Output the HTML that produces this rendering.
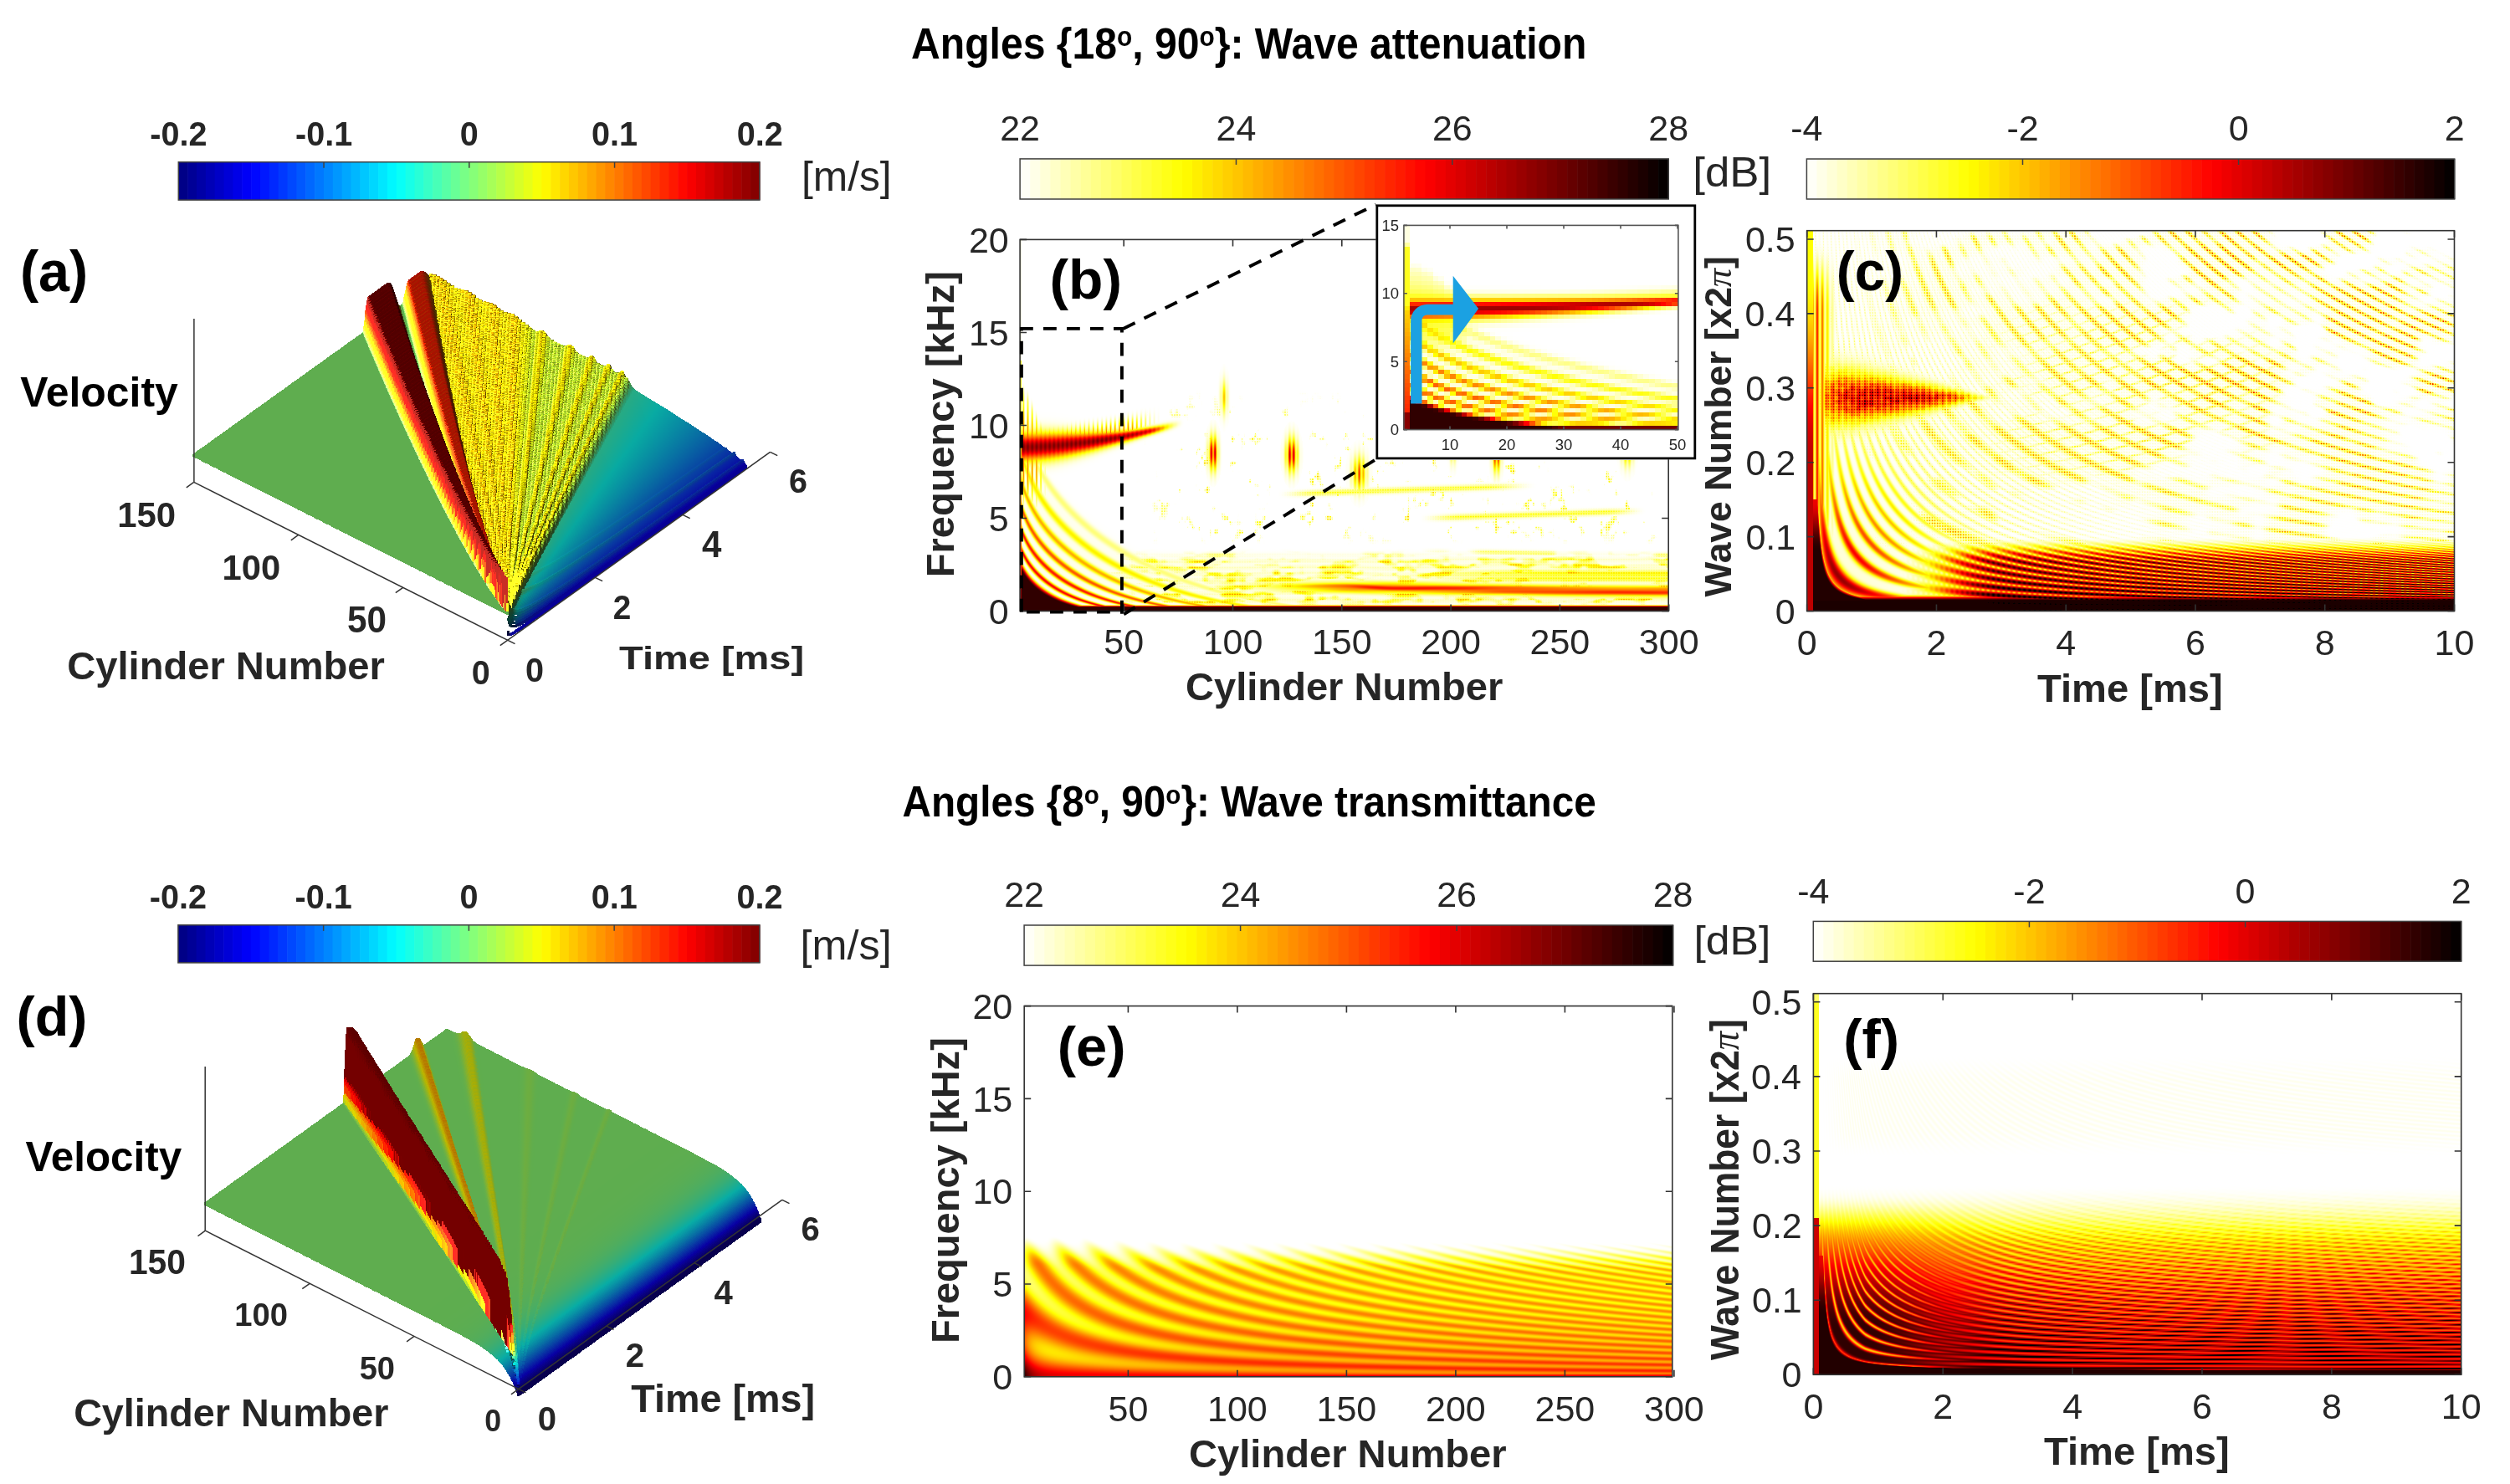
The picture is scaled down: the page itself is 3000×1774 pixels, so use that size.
<!DOCTYPE html>
<html><head><meta charset="utf-8"><style>
html,body{margin:0;padding:0;background:#fff;}
#wrap{position:relative;width:3000px;height:1774px;overflow:hidden;background:#fff;}
#wrap svg,#wrap canvas{position:absolute;left:0;top:0;}
text{font-family:"Liberation Sans",sans-serif;}
</style></head><body><div id="wrap">
<svg id="bg" width="3000" height="1774" viewBox="0 0 3000 1774"></svg>
<canvas id="cv" width="3000" height="1774"></canvas>
<svg id="fg" width="3000" height="1774" viewBox="0 0 3000 1774">
<rect x="213.30" y="193.70" width="11.45" height="45.40" fill="rgb(0, 0, 135)"/>
<rect x="224.15" y="193.70" width="11.45" height="45.40" fill="rgb(0, 0, 151)"/>
<rect x="235.01" y="193.70" width="11.45" height="45.40" fill="rgb(0, 0, 167)"/>
<rect x="245.86" y="193.70" width="11.45" height="45.40" fill="rgb(0, 0, 183)"/>
<rect x="256.71" y="193.70" width="11.45" height="45.40" fill="rgb(0, 0, 199)"/>
<rect x="267.57" y="193.70" width="11.45" height="45.40" fill="rgb(0, 0, 215)"/>
<rect x="278.42" y="193.70" width="11.45" height="45.40" fill="rgb(0, 0, 231)"/>
<rect x="289.27" y="193.70" width="11.45" height="45.40" fill="rgb(0, 0, 247)"/>
<rect x="300.12" y="193.70" width="11.45" height="45.40" fill="rgb(0, 8, 255)"/>
<rect x="310.98" y="193.70" width="11.45" height="45.40" fill="rgb(0, 24, 255)"/>
<rect x="321.83" y="193.70" width="11.45" height="45.40" fill="rgb(0, 40, 255)"/>
<rect x="332.68" y="193.70" width="11.45" height="45.40" fill="rgb(0, 56, 255)"/>
<rect x="343.54" y="193.70" width="11.45" height="45.40" fill="rgb(0, 72, 255)"/>
<rect x="354.39" y="193.70" width="11.45" height="45.40" fill="rgb(0, 88, 255)"/>
<rect x="365.24" y="193.70" width="11.45" height="45.40" fill="rgb(0, 104, 255)"/>
<rect x="376.10" y="193.70" width="11.45" height="45.40" fill="rgb(0, 120, 255)"/>
<rect x="386.95" y="193.70" width="11.45" height="45.40" fill="rgb(0, 135, 255)"/>
<rect x="397.80" y="193.70" width="11.45" height="45.40" fill="rgb(0, 151, 255)"/>
<rect x="408.66" y="193.70" width="11.45" height="45.40" fill="rgb(0, 167, 255)"/>
<rect x="419.51" y="193.70" width="11.45" height="45.40" fill="rgb(0, 183, 255)"/>
<rect x="430.36" y="193.70" width="11.45" height="45.40" fill="rgb(0, 199, 255)"/>
<rect x="441.22" y="193.70" width="11.45" height="45.40" fill="rgb(0, 215, 255)"/>
<rect x="452.07" y="193.70" width="11.45" height="45.40" fill="rgb(0, 231, 255)"/>
<rect x="462.92" y="193.70" width="11.45" height="45.40" fill="rgb(0, 247, 255)"/>
<rect x="473.77" y="193.70" width="11.45" height="45.40" fill="rgb(8, 255, 247)"/>
<rect x="484.63" y="193.70" width="11.45" height="45.40" fill="rgb(24, 255, 231)"/>
<rect x="495.48" y="193.70" width="11.45" height="45.40" fill="rgb(40, 255, 215)"/>
<rect x="506.33" y="193.70" width="11.45" height="45.40" fill="rgb(56, 255, 199)"/>
<rect x="517.19" y="193.70" width="11.45" height="45.40" fill="rgb(72, 255, 183)"/>
<rect x="528.04" y="193.70" width="11.45" height="45.40" fill="rgb(88, 255, 167)"/>
<rect x="538.89" y="193.70" width="11.45" height="45.40" fill="rgb(104, 255, 151)"/>
<rect x="549.75" y="193.70" width="11.45" height="45.40" fill="rgb(120, 255, 135)"/>
<rect x="560.60" y="193.70" width="11.45" height="45.40" fill="rgb(135, 255, 120)"/>
<rect x="571.45" y="193.70" width="11.45" height="45.40" fill="rgb(151, 255, 104)"/>
<rect x="582.31" y="193.70" width="11.45" height="45.40" fill="rgb(167, 255, 88)"/>
<rect x="593.16" y="193.70" width="11.45" height="45.40" fill="rgb(183, 255, 72)"/>
<rect x="604.01" y="193.70" width="11.45" height="45.40" fill="rgb(199, 255, 56)"/>
<rect x="614.87" y="193.70" width="11.45" height="45.40" fill="rgb(215, 255, 40)"/>
<rect x="625.72" y="193.70" width="11.45" height="45.40" fill="rgb(231, 255, 24)"/>
<rect x="636.57" y="193.70" width="11.45" height="45.40" fill="rgb(247, 255, 8)"/>
<rect x="647.42" y="193.70" width="11.45" height="45.40" fill="rgb(255, 247, 0)"/>
<rect x="658.28" y="193.70" width="11.45" height="45.40" fill="rgb(255, 231, 0)"/>
<rect x="669.13" y="193.70" width="11.45" height="45.40" fill="rgb(255, 215, 0)"/>
<rect x="679.98" y="193.70" width="11.45" height="45.40" fill="rgb(255, 199, 0)"/>
<rect x="690.84" y="193.70" width="11.45" height="45.40" fill="rgb(255, 183, 0)"/>
<rect x="701.69" y="193.70" width="11.45" height="45.40" fill="rgb(255, 167, 0)"/>
<rect x="712.54" y="193.70" width="11.45" height="45.40" fill="rgb(255, 151, 0)"/>
<rect x="723.40" y="193.70" width="11.45" height="45.40" fill="rgb(255, 135, 0)"/>
<rect x="734.25" y="193.70" width="11.45" height="45.40" fill="rgb(255, 120, 0)"/>
<rect x="745.10" y="193.70" width="11.45" height="45.40" fill="rgb(255, 104, 0)"/>
<rect x="755.96" y="193.70" width="11.45" height="45.40" fill="rgb(255, 88, 0)"/>
<rect x="766.81" y="193.70" width="11.45" height="45.40" fill="rgb(255, 72, 0)"/>
<rect x="777.66" y="193.70" width="11.45" height="45.40" fill="rgb(255, 56, 0)"/>
<rect x="788.52" y="193.70" width="11.45" height="45.40" fill="rgb(255, 40, 0)"/>
<rect x="799.37" y="193.70" width="11.45" height="45.40" fill="rgb(255, 24, 0)"/>
<rect x="810.22" y="193.70" width="11.45" height="45.40" fill="rgb(255, 8, 0)"/>
<rect x="821.07" y="193.70" width="11.45" height="45.40" fill="rgb(247, 0, 0)"/>
<rect x="831.93" y="193.70" width="11.45" height="45.40" fill="rgb(231, 0, 0)"/>
<rect x="842.78" y="193.70" width="11.45" height="45.40" fill="rgb(215, 0, 0)"/>
<rect x="853.63" y="193.70" width="11.45" height="45.40" fill="rgb(199, 0, 0)"/>
<rect x="864.49" y="193.70" width="11.45" height="45.40" fill="rgb(183, 0, 0)"/>
<rect x="875.34" y="193.70" width="11.45" height="45.40" fill="rgb(167, 0, 0)"/>
<rect x="886.19" y="193.70" width="11.45" height="45.40" fill="rgb(151, 0, 0)"/>
<rect x="897.05" y="193.70" width="11.45" height="45.40" fill="rgb(135, 0, 0)"/>
<rect x="213.30" y="193.70" width="694.60" height="45.40" fill="none" stroke="#404040" stroke-width="1.5"/>
<line x1="387.05" y1="193.70" x2="387.05" y2="200.70" stroke="#404040" stroke-width="1.5"/>
<line x1="560.80" y1="193.70" x2="560.80" y2="200.70" stroke="#404040" stroke-width="1.5"/>
<line x1="734.55" y1="193.70" x2="734.55" y2="200.70" stroke="#404040" stroke-width="1.5"/>
<rect x="1219.10" y="189.90" width="12.71" height="48.10" fill="rgb(255, 255, 247)"/>
<rect x="1231.21" y="189.90" width="12.71" height="48.10" fill="rgb(255, 255, 231)"/>
<rect x="1243.32" y="189.90" width="12.71" height="48.10" fill="rgb(255, 255, 215)"/>
<rect x="1255.43" y="189.90" width="12.71" height="48.10" fill="rgb(255, 255, 199)"/>
<rect x="1267.54" y="189.90" width="12.71" height="48.10" fill="rgb(255, 255, 183)"/>
<rect x="1279.65" y="189.90" width="12.71" height="48.10" fill="rgb(255, 255, 167)"/>
<rect x="1291.77" y="189.90" width="12.71" height="48.10" fill="rgb(255, 255, 151)"/>
<rect x="1303.88" y="189.90" width="12.71" height="48.10" fill="rgb(255, 255, 135)"/>
<rect x="1315.99" y="189.90" width="12.71" height="48.10" fill="rgb(255, 255, 120)"/>
<rect x="1328.10" y="189.90" width="12.71" height="48.10" fill="rgb(255, 255, 104)"/>
<rect x="1340.21" y="189.90" width="12.71" height="48.10" fill="rgb(255, 255, 88)"/>
<rect x="1352.32" y="189.90" width="12.71" height="48.10" fill="rgb(255, 255, 72)"/>
<rect x="1364.43" y="189.90" width="12.71" height="48.10" fill="rgb(255, 255, 56)"/>
<rect x="1376.54" y="189.90" width="12.71" height="48.10" fill="rgb(255, 255, 40)"/>
<rect x="1388.65" y="189.90" width="12.71" height="48.10" fill="rgb(255, 255, 24)"/>
<rect x="1400.76" y="189.90" width="12.71" height="48.10" fill="rgb(255, 255, 8)"/>
<rect x="1412.88" y="189.90" width="12.71" height="48.10" fill="rgb(255, 250, 0)"/>
<rect x="1424.99" y="189.90" width="12.71" height="48.10" fill="rgb(255, 239, 0)"/>
<rect x="1437.10" y="189.90" width="12.71" height="48.10" fill="rgb(255, 228, 0)"/>
<rect x="1449.21" y="189.90" width="12.71" height="48.10" fill="rgb(255, 218, 0)"/>
<rect x="1461.32" y="189.90" width="12.71" height="48.10" fill="rgb(255, 207, 0)"/>
<rect x="1473.43" y="189.90" width="12.71" height="48.10" fill="rgb(255, 197, 0)"/>
<rect x="1485.54" y="189.90" width="12.71" height="48.10" fill="rgb(255, 186, 0)"/>
<rect x="1497.65" y="189.90" width="12.71" height="48.10" fill="rgb(255, 175, 0)"/>
<rect x="1509.76" y="189.90" width="12.71" height="48.10" fill="rgb(255, 165, 0)"/>
<rect x="1521.87" y="189.90" width="12.71" height="48.10" fill="rgb(255, 154, 0)"/>
<rect x="1533.98" y="189.90" width="12.71" height="48.10" fill="rgb(255, 143, 0)"/>
<rect x="1546.10" y="189.90" width="12.71" height="48.10" fill="rgb(255, 133, 0)"/>
<rect x="1558.21" y="189.90" width="12.71" height="48.10" fill="rgb(255, 122, 0)"/>
<rect x="1570.32" y="189.90" width="12.71" height="48.10" fill="rgb(255, 112, 0)"/>
<rect x="1582.43" y="189.90" width="12.71" height="48.10" fill="rgb(255, 101, 0)"/>
<rect x="1594.54" y="189.90" width="12.71" height="48.10" fill="rgb(255, 90, 0)"/>
<rect x="1606.65" y="189.90" width="12.71" height="48.10" fill="rgb(255, 80, 0)"/>
<rect x="1618.76" y="189.90" width="12.71" height="48.10" fill="rgb(255, 69, 0)"/>
<rect x="1630.87" y="189.90" width="12.71" height="48.10" fill="rgb(255, 58, 0)"/>
<rect x="1642.98" y="189.90" width="12.71" height="48.10" fill="rgb(255, 48, 0)"/>
<rect x="1655.09" y="189.90" width="12.71" height="48.10" fill="rgb(255, 37, 0)"/>
<rect x="1667.20" y="189.90" width="12.71" height="48.10" fill="rgb(255, 27, 0)"/>
<rect x="1679.32" y="189.90" width="12.71" height="48.10" fill="rgb(255, 16, 0)"/>
<rect x="1691.43" y="189.90" width="12.71" height="48.10" fill="rgb(255, 5, 0)"/>
<rect x="1703.54" y="189.90" width="12.71" height="48.10" fill="rgb(250, 0, 0)"/>
<rect x="1715.65" y="189.90" width="12.71" height="48.10" fill="rgb(239, 0, 0)"/>
<rect x="1727.76" y="189.90" width="12.71" height="48.10" fill="rgb(228, 0, 0)"/>
<rect x="1739.87" y="189.90" width="12.71" height="48.10" fill="rgb(218, 0, 0)"/>
<rect x="1751.98" y="189.90" width="12.71" height="48.10" fill="rgb(207, 0, 0)"/>
<rect x="1764.09" y="189.90" width="12.71" height="48.10" fill="rgb(197, 0, 0)"/>
<rect x="1776.20" y="189.90" width="12.71" height="48.10" fill="rgb(186, 0, 0)"/>
<rect x="1788.31" y="189.90" width="12.71" height="48.10" fill="rgb(175, 0, 0)"/>
<rect x="1800.42" y="189.90" width="12.71" height="48.10" fill="rgb(165, 0, 0)"/>
<rect x="1812.54" y="189.90" width="12.71" height="48.10" fill="rgb(154, 0, 0)"/>
<rect x="1824.65" y="189.90" width="12.71" height="48.10" fill="rgb(143, 0, 0)"/>
<rect x="1836.76" y="189.90" width="12.71" height="48.10" fill="rgb(133, 0, 0)"/>
<rect x="1848.87" y="189.90" width="12.71" height="48.10" fill="rgb(122, 0, 0)"/>
<rect x="1860.98" y="189.90" width="12.71" height="48.10" fill="rgb(112, 0, 0)"/>
<rect x="1873.09" y="189.90" width="12.71" height="48.10" fill="rgb(101, 0, 0)"/>
<rect x="1885.20" y="189.90" width="12.71" height="48.10" fill="rgb(90, 0, 0)"/>
<rect x="1897.31" y="189.90" width="12.71" height="48.10" fill="rgb(80, 0, 0)"/>
<rect x="1909.42" y="189.90" width="12.71" height="48.10" fill="rgb(69, 0, 0)"/>
<rect x="1921.53" y="189.90" width="12.71" height="48.10" fill="rgb(58, 0, 0)"/>
<rect x="1933.65" y="189.90" width="12.71" height="48.10" fill="rgb(48, 0, 0)"/>
<rect x="1945.76" y="189.90" width="12.71" height="48.10" fill="rgb(37, 0, 0)"/>
<rect x="1957.87" y="189.90" width="12.71" height="48.10" fill="rgb(27, 0, 0)"/>
<rect x="1969.98" y="189.90" width="12.71" height="48.10" fill="rgb(16, 0, 0)"/>
<rect x="1982.09" y="189.90" width="12.71" height="48.10" fill="rgb(5, 0, 0)"/>
<rect x="1219.10" y="189.90" width="775.10" height="48.10" fill="none" stroke="#404040" stroke-width="1.5"/>
<line x1="1477.47" y1="189.90" x2="1477.47" y2="196.90" stroke="#404040" stroke-width="1.5"/>
<line x1="1735.83" y1="189.90" x2="1735.83" y2="196.90" stroke="#404040" stroke-width="1.5"/>
<rect x="2159.40" y="190.00" width="12.70" height="48.00" fill="rgb(255, 255, 247)"/>
<rect x="2171.50" y="190.00" width="12.70" height="48.00" fill="rgb(255, 255, 231)"/>
<rect x="2183.60" y="190.00" width="12.70" height="48.00" fill="rgb(255, 255, 215)"/>
<rect x="2195.70" y="190.00" width="12.70" height="48.00" fill="rgb(255, 255, 199)"/>
<rect x="2207.79" y="190.00" width="12.70" height="48.00" fill="rgb(255, 255, 183)"/>
<rect x="2219.89" y="190.00" width="12.70" height="48.00" fill="rgb(255, 255, 167)"/>
<rect x="2231.99" y="190.00" width="12.70" height="48.00" fill="rgb(255, 255, 151)"/>
<rect x="2244.09" y="190.00" width="12.70" height="48.00" fill="rgb(255, 255, 135)"/>
<rect x="2256.19" y="190.00" width="12.70" height="48.00" fill="rgb(255, 255, 120)"/>
<rect x="2268.29" y="190.00" width="12.70" height="48.00" fill="rgb(255, 255, 104)"/>
<rect x="2280.38" y="190.00" width="12.70" height="48.00" fill="rgb(255, 255, 88)"/>
<rect x="2292.48" y="190.00" width="12.70" height="48.00" fill="rgb(255, 255, 72)"/>
<rect x="2304.58" y="190.00" width="12.70" height="48.00" fill="rgb(255, 255, 56)"/>
<rect x="2316.68" y="190.00" width="12.70" height="48.00" fill="rgb(255, 255, 40)"/>
<rect x="2328.78" y="190.00" width="12.70" height="48.00" fill="rgb(255, 255, 24)"/>
<rect x="2340.88" y="190.00" width="12.70" height="48.00" fill="rgb(255, 255, 8)"/>
<rect x="2352.97" y="190.00" width="12.70" height="48.00" fill="rgb(255, 250, 0)"/>
<rect x="2365.07" y="190.00" width="12.70" height="48.00" fill="rgb(255, 239, 0)"/>
<rect x="2377.17" y="190.00" width="12.70" height="48.00" fill="rgb(255, 228, 0)"/>
<rect x="2389.27" y="190.00" width="12.70" height="48.00" fill="rgb(255, 218, 0)"/>
<rect x="2401.37" y="190.00" width="12.70" height="48.00" fill="rgb(255, 207, 0)"/>
<rect x="2413.47" y="190.00" width="12.70" height="48.00" fill="rgb(255, 197, 0)"/>
<rect x="2425.57" y="190.00" width="12.70" height="48.00" fill="rgb(255, 186, 0)"/>
<rect x="2437.66" y="190.00" width="12.70" height="48.00" fill="rgb(255, 175, 0)"/>
<rect x="2449.76" y="190.00" width="12.70" height="48.00" fill="rgb(255, 165, 0)"/>
<rect x="2461.86" y="190.00" width="12.70" height="48.00" fill="rgb(255, 154, 0)"/>
<rect x="2473.96" y="190.00" width="12.70" height="48.00" fill="rgb(255, 143, 0)"/>
<rect x="2486.06" y="190.00" width="12.70" height="48.00" fill="rgb(255, 133, 0)"/>
<rect x="2498.16" y="190.00" width="12.70" height="48.00" fill="rgb(255, 122, 0)"/>
<rect x="2510.25" y="190.00" width="12.70" height="48.00" fill="rgb(255, 112, 0)"/>
<rect x="2522.35" y="190.00" width="12.70" height="48.00" fill="rgb(255, 101, 0)"/>
<rect x="2534.45" y="190.00" width="12.70" height="48.00" fill="rgb(255, 90, 0)"/>
<rect x="2546.55" y="190.00" width="12.70" height="48.00" fill="rgb(255, 80, 0)"/>
<rect x="2558.65" y="190.00" width="12.70" height="48.00" fill="rgb(255, 69, 0)"/>
<rect x="2570.75" y="190.00" width="12.70" height="48.00" fill="rgb(255, 58, 0)"/>
<rect x="2582.85" y="190.00" width="12.70" height="48.00" fill="rgb(255, 48, 0)"/>
<rect x="2594.94" y="190.00" width="12.70" height="48.00" fill="rgb(255, 37, 0)"/>
<rect x="2607.04" y="190.00" width="12.70" height="48.00" fill="rgb(255, 27, 0)"/>
<rect x="2619.14" y="190.00" width="12.70" height="48.00" fill="rgb(255, 16, 0)"/>
<rect x="2631.24" y="190.00" width="12.70" height="48.00" fill="rgb(255, 5, 0)"/>
<rect x="2643.34" y="190.00" width="12.70" height="48.00" fill="rgb(250, 0, 0)"/>
<rect x="2655.44" y="190.00" width="12.70" height="48.00" fill="rgb(239, 0, 0)"/>
<rect x="2667.53" y="190.00" width="12.70" height="48.00" fill="rgb(228, 0, 0)"/>
<rect x="2679.63" y="190.00" width="12.70" height="48.00" fill="rgb(218, 0, 0)"/>
<rect x="2691.73" y="190.00" width="12.70" height="48.00" fill="rgb(207, 0, 0)"/>
<rect x="2703.83" y="190.00" width="12.70" height="48.00" fill="rgb(197, 0, 0)"/>
<rect x="2715.93" y="190.00" width="12.70" height="48.00" fill="rgb(186, 0, 0)"/>
<rect x="2728.03" y="190.00" width="12.70" height="48.00" fill="rgb(175, 0, 0)"/>
<rect x="2740.12" y="190.00" width="12.70" height="48.00" fill="rgb(165, 0, 0)"/>
<rect x="2752.22" y="190.00" width="12.70" height="48.00" fill="rgb(154, 0, 0)"/>
<rect x="2764.32" y="190.00" width="12.70" height="48.00" fill="rgb(143, 0, 0)"/>
<rect x="2776.42" y="190.00" width="12.70" height="48.00" fill="rgb(133, 0, 0)"/>
<rect x="2788.52" y="190.00" width="12.70" height="48.00" fill="rgb(122, 0, 0)"/>
<rect x="2800.62" y="190.00" width="12.70" height="48.00" fill="rgb(112, 0, 0)"/>
<rect x="2812.72" y="190.00" width="12.70" height="48.00" fill="rgb(101, 0, 0)"/>
<rect x="2824.81" y="190.00" width="12.70" height="48.00" fill="rgb(90, 0, 0)"/>
<rect x="2836.91" y="190.00" width="12.70" height="48.00" fill="rgb(80, 0, 0)"/>
<rect x="2849.01" y="190.00" width="12.70" height="48.00" fill="rgb(69, 0, 0)"/>
<rect x="2861.11" y="190.00" width="12.70" height="48.00" fill="rgb(58, 0, 0)"/>
<rect x="2873.21" y="190.00" width="12.70" height="48.00" fill="rgb(48, 0, 0)"/>
<rect x="2885.31" y="190.00" width="12.70" height="48.00" fill="rgb(37, 0, 0)"/>
<rect x="2897.40" y="190.00" width="12.70" height="48.00" fill="rgb(27, 0, 0)"/>
<rect x="2909.50" y="190.00" width="12.70" height="48.00" fill="rgb(16, 0, 0)"/>
<rect x="2921.60" y="190.00" width="12.70" height="48.00" fill="rgb(5, 0, 0)"/>
<rect x="2159.40" y="190.00" width="774.30" height="48.00" fill="none" stroke="#404040" stroke-width="1.5"/>
<line x1="2417.50" y1="190.00" x2="2417.50" y2="197.00" stroke="#404040" stroke-width="1.5"/>
<line x1="2675.60" y1="190.00" x2="2675.60" y2="197.00" stroke="#404040" stroke-width="1.5"/>
<rect x="212.90" y="1105.80" width="11.46" height="45.10" fill="rgb(0, 0, 135)"/>
<rect x="223.76" y="1105.80" width="11.46" height="45.10" fill="rgb(0, 0, 151)"/>
<rect x="234.62" y="1105.80" width="11.46" height="45.10" fill="rgb(0, 0, 167)"/>
<rect x="245.48" y="1105.80" width="11.46" height="45.10" fill="rgb(0, 0, 183)"/>
<rect x="256.34" y="1105.80" width="11.46" height="45.10" fill="rgb(0, 0, 199)"/>
<rect x="267.20" y="1105.80" width="11.46" height="45.10" fill="rgb(0, 0, 215)"/>
<rect x="278.06" y="1105.80" width="11.46" height="45.10" fill="rgb(0, 0, 231)"/>
<rect x="288.92" y="1105.80" width="11.46" height="45.10" fill="rgb(0, 0, 247)"/>
<rect x="299.77" y="1105.80" width="11.46" height="45.10" fill="rgb(0, 8, 255)"/>
<rect x="310.63" y="1105.80" width="11.46" height="45.10" fill="rgb(0, 24, 255)"/>
<rect x="321.49" y="1105.80" width="11.46" height="45.10" fill="rgb(0, 40, 255)"/>
<rect x="332.35" y="1105.80" width="11.46" height="45.10" fill="rgb(0, 56, 255)"/>
<rect x="343.21" y="1105.80" width="11.46" height="45.10" fill="rgb(0, 72, 255)"/>
<rect x="354.07" y="1105.80" width="11.46" height="45.10" fill="rgb(0, 88, 255)"/>
<rect x="364.93" y="1105.80" width="11.46" height="45.10" fill="rgb(0, 104, 255)"/>
<rect x="375.79" y="1105.80" width="11.46" height="45.10" fill="rgb(0, 120, 255)"/>
<rect x="386.65" y="1105.80" width="11.46" height="45.10" fill="rgb(0, 135, 255)"/>
<rect x="397.51" y="1105.80" width="11.46" height="45.10" fill="rgb(0, 151, 255)"/>
<rect x="408.37" y="1105.80" width="11.46" height="45.10" fill="rgb(0, 167, 255)"/>
<rect x="419.23" y="1105.80" width="11.46" height="45.10" fill="rgb(0, 183, 255)"/>
<rect x="430.09" y="1105.80" width="11.46" height="45.10" fill="rgb(0, 199, 255)"/>
<rect x="440.95" y="1105.80" width="11.46" height="45.10" fill="rgb(0, 215, 255)"/>
<rect x="451.81" y="1105.80" width="11.46" height="45.10" fill="rgb(0, 231, 255)"/>
<rect x="462.67" y="1105.80" width="11.46" height="45.10" fill="rgb(0, 247, 255)"/>
<rect x="473.52" y="1105.80" width="11.46" height="45.10" fill="rgb(8, 255, 247)"/>
<rect x="484.38" y="1105.80" width="11.46" height="45.10" fill="rgb(24, 255, 231)"/>
<rect x="495.24" y="1105.80" width="11.46" height="45.10" fill="rgb(40, 255, 215)"/>
<rect x="506.10" y="1105.80" width="11.46" height="45.10" fill="rgb(56, 255, 199)"/>
<rect x="516.96" y="1105.80" width="11.46" height="45.10" fill="rgb(72, 255, 183)"/>
<rect x="527.82" y="1105.80" width="11.46" height="45.10" fill="rgb(88, 255, 167)"/>
<rect x="538.68" y="1105.80" width="11.46" height="45.10" fill="rgb(104, 255, 151)"/>
<rect x="549.54" y="1105.80" width="11.46" height="45.10" fill="rgb(120, 255, 135)"/>
<rect x="560.40" y="1105.80" width="11.46" height="45.10" fill="rgb(135, 255, 120)"/>
<rect x="571.26" y="1105.80" width="11.46" height="45.10" fill="rgb(151, 255, 104)"/>
<rect x="582.12" y="1105.80" width="11.46" height="45.10" fill="rgb(167, 255, 88)"/>
<rect x="592.98" y="1105.80" width="11.46" height="45.10" fill="rgb(183, 255, 72)"/>
<rect x="603.84" y="1105.80" width="11.46" height="45.10" fill="rgb(199, 255, 56)"/>
<rect x="614.70" y="1105.80" width="11.46" height="45.10" fill="rgb(215, 255, 40)"/>
<rect x="625.56" y="1105.80" width="11.46" height="45.10" fill="rgb(231, 255, 24)"/>
<rect x="636.42" y="1105.80" width="11.46" height="45.10" fill="rgb(247, 255, 8)"/>
<rect x="647.27" y="1105.80" width="11.46" height="45.10" fill="rgb(255, 247, 0)"/>
<rect x="658.13" y="1105.80" width="11.46" height="45.10" fill="rgb(255, 231, 0)"/>
<rect x="668.99" y="1105.80" width="11.46" height="45.10" fill="rgb(255, 215, 0)"/>
<rect x="679.85" y="1105.80" width="11.46" height="45.10" fill="rgb(255, 199, 0)"/>
<rect x="690.71" y="1105.80" width="11.46" height="45.10" fill="rgb(255, 183, 0)"/>
<rect x="701.57" y="1105.80" width="11.46" height="45.10" fill="rgb(255, 167, 0)"/>
<rect x="712.43" y="1105.80" width="11.46" height="45.10" fill="rgb(255, 151, 0)"/>
<rect x="723.29" y="1105.80" width="11.46" height="45.10" fill="rgb(255, 135, 0)"/>
<rect x="734.15" y="1105.80" width="11.46" height="45.10" fill="rgb(255, 120, 0)"/>
<rect x="745.01" y="1105.80" width="11.46" height="45.10" fill="rgb(255, 104, 0)"/>
<rect x="755.87" y="1105.80" width="11.46" height="45.10" fill="rgb(255, 88, 0)"/>
<rect x="766.73" y="1105.80" width="11.46" height="45.10" fill="rgb(255, 72, 0)"/>
<rect x="777.59" y="1105.80" width="11.46" height="45.10" fill="rgb(255, 56, 0)"/>
<rect x="788.45" y="1105.80" width="11.46" height="45.10" fill="rgb(255, 40, 0)"/>
<rect x="799.31" y="1105.80" width="11.46" height="45.10" fill="rgb(255, 24, 0)"/>
<rect x="810.17" y="1105.80" width="11.46" height="45.10" fill="rgb(255, 8, 0)"/>
<rect x="821.02" y="1105.80" width="11.46" height="45.10" fill="rgb(247, 0, 0)"/>
<rect x="831.88" y="1105.80" width="11.46" height="45.10" fill="rgb(231, 0, 0)"/>
<rect x="842.74" y="1105.80" width="11.46" height="45.10" fill="rgb(215, 0, 0)"/>
<rect x="853.60" y="1105.80" width="11.46" height="45.10" fill="rgb(199, 0, 0)"/>
<rect x="864.46" y="1105.80" width="11.46" height="45.10" fill="rgb(183, 0, 0)"/>
<rect x="875.32" y="1105.80" width="11.46" height="45.10" fill="rgb(167, 0, 0)"/>
<rect x="886.18" y="1105.80" width="11.46" height="45.10" fill="rgb(151, 0, 0)"/>
<rect x="897.04" y="1105.80" width="11.46" height="45.10" fill="rgb(135, 0, 0)"/>
<rect x="212.90" y="1105.80" width="695.00" height="45.10" fill="none" stroke="#404040" stroke-width="1.5"/>
<line x1="386.65" y1="1105.80" x2="386.65" y2="1112.80" stroke="#404040" stroke-width="1.5"/>
<line x1="560.40" y1="1105.80" x2="560.40" y2="1112.80" stroke="#404040" stroke-width="1.5"/>
<line x1="734.15" y1="1105.80" x2="734.15" y2="1112.80" stroke="#404040" stroke-width="1.5"/>
<rect x="1224.10" y="1106.00" width="12.72" height="48.10" fill="rgb(255, 255, 247)"/>
<rect x="1236.22" y="1106.00" width="12.72" height="48.10" fill="rgb(255, 255, 231)"/>
<rect x="1248.33" y="1106.00" width="12.72" height="48.10" fill="rgb(255, 255, 215)"/>
<rect x="1260.45" y="1106.00" width="12.72" height="48.10" fill="rgb(255, 255, 199)"/>
<rect x="1272.57" y="1106.00" width="12.72" height="48.10" fill="rgb(255, 255, 183)"/>
<rect x="1284.69" y="1106.00" width="12.72" height="48.10" fill="rgb(255, 255, 167)"/>
<rect x="1296.80" y="1106.00" width="12.72" height="48.10" fill="rgb(255, 255, 151)"/>
<rect x="1308.92" y="1106.00" width="12.72" height="48.10" fill="rgb(255, 255, 135)"/>
<rect x="1321.04" y="1106.00" width="12.72" height="48.10" fill="rgb(255, 255, 120)"/>
<rect x="1333.15" y="1106.00" width="12.72" height="48.10" fill="rgb(255, 255, 104)"/>
<rect x="1345.27" y="1106.00" width="12.72" height="48.10" fill="rgb(255, 255, 88)"/>
<rect x="1357.39" y="1106.00" width="12.72" height="48.10" fill="rgb(255, 255, 72)"/>
<rect x="1369.51" y="1106.00" width="12.72" height="48.10" fill="rgb(255, 255, 56)"/>
<rect x="1381.62" y="1106.00" width="12.72" height="48.10" fill="rgb(255, 255, 40)"/>
<rect x="1393.74" y="1106.00" width="12.72" height="48.10" fill="rgb(255, 255, 24)"/>
<rect x="1405.86" y="1106.00" width="12.72" height="48.10" fill="rgb(255, 255, 8)"/>
<rect x="1417.97" y="1106.00" width="12.72" height="48.10" fill="rgb(255, 250, 0)"/>
<rect x="1430.09" y="1106.00" width="12.72" height="48.10" fill="rgb(255, 239, 0)"/>
<rect x="1442.21" y="1106.00" width="12.72" height="48.10" fill="rgb(255, 228, 0)"/>
<rect x="1454.33" y="1106.00" width="12.72" height="48.10" fill="rgb(255, 218, 0)"/>
<rect x="1466.44" y="1106.00" width="12.72" height="48.10" fill="rgb(255, 207, 0)"/>
<rect x="1478.56" y="1106.00" width="12.72" height="48.10" fill="rgb(255, 197, 0)"/>
<rect x="1490.68" y="1106.00" width="12.72" height="48.10" fill="rgb(255, 186, 0)"/>
<rect x="1502.80" y="1106.00" width="12.72" height="48.10" fill="rgb(255, 175, 0)"/>
<rect x="1514.91" y="1106.00" width="12.72" height="48.10" fill="rgb(255, 165, 0)"/>
<rect x="1527.03" y="1106.00" width="12.72" height="48.10" fill="rgb(255, 154, 0)"/>
<rect x="1539.15" y="1106.00" width="12.72" height="48.10" fill="rgb(255, 143, 0)"/>
<rect x="1551.26" y="1106.00" width="12.72" height="48.10" fill="rgb(255, 133, 0)"/>
<rect x="1563.38" y="1106.00" width="12.72" height="48.10" fill="rgb(255, 122, 0)"/>
<rect x="1575.50" y="1106.00" width="12.72" height="48.10" fill="rgb(255, 112, 0)"/>
<rect x="1587.62" y="1106.00" width="12.72" height="48.10" fill="rgb(255, 101, 0)"/>
<rect x="1599.73" y="1106.00" width="12.72" height="48.10" fill="rgb(255, 90, 0)"/>
<rect x="1611.85" y="1106.00" width="12.72" height="48.10" fill="rgb(255, 80, 0)"/>
<rect x="1623.97" y="1106.00" width="12.72" height="48.10" fill="rgb(255, 69, 0)"/>
<rect x="1636.08" y="1106.00" width="12.72" height="48.10" fill="rgb(255, 58, 0)"/>
<rect x="1648.20" y="1106.00" width="12.72" height="48.10" fill="rgb(255, 48, 0)"/>
<rect x="1660.32" y="1106.00" width="12.72" height="48.10" fill="rgb(255, 37, 0)"/>
<rect x="1672.44" y="1106.00" width="12.72" height="48.10" fill="rgb(255, 27, 0)"/>
<rect x="1684.55" y="1106.00" width="12.72" height="48.10" fill="rgb(255, 16, 0)"/>
<rect x="1696.67" y="1106.00" width="12.72" height="48.10" fill="rgb(255, 5, 0)"/>
<rect x="1708.79" y="1106.00" width="12.72" height="48.10" fill="rgb(250, 0, 0)"/>
<rect x="1720.90" y="1106.00" width="12.72" height="48.10" fill="rgb(239, 0, 0)"/>
<rect x="1733.02" y="1106.00" width="12.72" height="48.10" fill="rgb(228, 0, 0)"/>
<rect x="1745.14" y="1106.00" width="12.72" height="48.10" fill="rgb(218, 0, 0)"/>
<rect x="1757.26" y="1106.00" width="12.72" height="48.10" fill="rgb(207, 0, 0)"/>
<rect x="1769.37" y="1106.00" width="12.72" height="48.10" fill="rgb(197, 0, 0)"/>
<rect x="1781.49" y="1106.00" width="12.72" height="48.10" fill="rgb(186, 0, 0)"/>
<rect x="1793.61" y="1106.00" width="12.72" height="48.10" fill="rgb(175, 0, 0)"/>
<rect x="1805.72" y="1106.00" width="12.72" height="48.10" fill="rgb(165, 0, 0)"/>
<rect x="1817.84" y="1106.00" width="12.72" height="48.10" fill="rgb(154, 0, 0)"/>
<rect x="1829.96" y="1106.00" width="12.72" height="48.10" fill="rgb(143, 0, 0)"/>
<rect x="1842.08" y="1106.00" width="12.72" height="48.10" fill="rgb(133, 0, 0)"/>
<rect x="1854.19" y="1106.00" width="12.72" height="48.10" fill="rgb(122, 0, 0)"/>
<rect x="1866.31" y="1106.00" width="12.72" height="48.10" fill="rgb(112, 0, 0)"/>
<rect x="1878.43" y="1106.00" width="12.72" height="48.10" fill="rgb(101, 0, 0)"/>
<rect x="1890.55" y="1106.00" width="12.72" height="48.10" fill="rgb(90, 0, 0)"/>
<rect x="1902.66" y="1106.00" width="12.72" height="48.10" fill="rgb(80, 0, 0)"/>
<rect x="1914.78" y="1106.00" width="12.72" height="48.10" fill="rgb(69, 0, 0)"/>
<rect x="1926.90" y="1106.00" width="12.72" height="48.10" fill="rgb(58, 0, 0)"/>
<rect x="1939.01" y="1106.00" width="12.72" height="48.10" fill="rgb(48, 0, 0)"/>
<rect x="1951.13" y="1106.00" width="12.72" height="48.10" fill="rgb(37, 0, 0)"/>
<rect x="1963.25" y="1106.00" width="12.72" height="48.10" fill="rgb(27, 0, 0)"/>
<rect x="1975.37" y="1106.00" width="12.72" height="48.10" fill="rgb(16, 0, 0)"/>
<rect x="1987.48" y="1106.00" width="12.72" height="48.10" fill="rgb(5, 0, 0)"/>
<rect x="1224.10" y="1106.00" width="775.50" height="48.10" fill="none" stroke="#404040" stroke-width="1.5"/>
<line x1="1482.60" y1="1106.00" x2="1482.60" y2="1113.00" stroke="#404040" stroke-width="1.5"/>
<line x1="1741.10" y1="1106.00" x2="1741.10" y2="1113.00" stroke="#404040" stroke-width="1.5"/>
<rect x="2167.30" y="1101.40" width="12.70" height="47.80" fill="rgb(255, 255, 247)"/>
<rect x="2179.40" y="1101.40" width="12.70" height="47.80" fill="rgb(255, 255, 231)"/>
<rect x="2191.50" y="1101.40" width="12.70" height="47.80" fill="rgb(255, 255, 215)"/>
<rect x="2203.60" y="1101.40" width="12.70" height="47.80" fill="rgb(255, 255, 199)"/>
<rect x="2215.70" y="1101.40" width="12.70" height="47.80" fill="rgb(255, 255, 183)"/>
<rect x="2227.80" y="1101.40" width="12.70" height="47.80" fill="rgb(255, 255, 167)"/>
<rect x="2239.90" y="1101.40" width="12.70" height="47.80" fill="rgb(255, 255, 151)"/>
<rect x="2252.00" y="1101.40" width="12.70" height="47.80" fill="rgb(255, 255, 135)"/>
<rect x="2264.10" y="1101.40" width="12.70" height="47.80" fill="rgb(255, 255, 120)"/>
<rect x="2276.20" y="1101.40" width="12.70" height="47.80" fill="rgb(255, 255, 104)"/>
<rect x="2288.30" y="1101.40" width="12.70" height="47.80" fill="rgb(255, 255, 88)"/>
<rect x="2300.40" y="1101.40" width="12.70" height="47.80" fill="rgb(255, 255, 72)"/>
<rect x="2312.50" y="1101.40" width="12.70" height="47.80" fill="rgb(255, 255, 56)"/>
<rect x="2324.60" y="1101.40" width="12.70" height="47.80" fill="rgb(255, 255, 40)"/>
<rect x="2336.70" y="1101.40" width="12.70" height="47.80" fill="rgb(255, 255, 24)"/>
<rect x="2348.80" y="1101.40" width="12.70" height="47.80" fill="rgb(255, 255, 8)"/>
<rect x="2360.90" y="1101.40" width="12.70" height="47.80" fill="rgb(255, 250, 0)"/>
<rect x="2373.00" y="1101.40" width="12.70" height="47.80" fill="rgb(255, 239, 0)"/>
<rect x="2385.10" y="1101.40" width="12.70" height="47.80" fill="rgb(255, 228, 0)"/>
<rect x="2397.20" y="1101.40" width="12.70" height="47.80" fill="rgb(255, 218, 0)"/>
<rect x="2409.30" y="1101.40" width="12.70" height="47.80" fill="rgb(255, 207, 0)"/>
<rect x="2421.40" y="1101.40" width="12.70" height="47.80" fill="rgb(255, 197, 0)"/>
<rect x="2433.50" y="1101.40" width="12.70" height="47.80" fill="rgb(255, 186, 0)"/>
<rect x="2445.60" y="1101.40" width="12.70" height="47.80" fill="rgb(255, 175, 0)"/>
<rect x="2457.70" y="1101.40" width="12.70" height="47.80" fill="rgb(255, 165, 0)"/>
<rect x="2469.80" y="1101.40" width="12.70" height="47.80" fill="rgb(255, 154, 0)"/>
<rect x="2481.90" y="1101.40" width="12.70" height="47.80" fill="rgb(255, 143, 0)"/>
<rect x="2494.00" y="1101.40" width="12.70" height="47.80" fill="rgb(255, 133, 0)"/>
<rect x="2506.10" y="1101.40" width="12.70" height="47.80" fill="rgb(255, 122, 0)"/>
<rect x="2518.20" y="1101.40" width="12.70" height="47.80" fill="rgb(255, 112, 0)"/>
<rect x="2530.30" y="1101.40" width="12.70" height="47.80" fill="rgb(255, 101, 0)"/>
<rect x="2542.40" y="1101.40" width="12.70" height="47.80" fill="rgb(255, 90, 0)"/>
<rect x="2554.50" y="1101.40" width="12.70" height="47.80" fill="rgb(255, 80, 0)"/>
<rect x="2566.60" y="1101.40" width="12.70" height="47.80" fill="rgb(255, 69, 0)"/>
<rect x="2578.70" y="1101.40" width="12.70" height="47.80" fill="rgb(255, 58, 0)"/>
<rect x="2590.80" y="1101.40" width="12.70" height="47.80" fill="rgb(255, 48, 0)"/>
<rect x="2602.90" y="1101.40" width="12.70" height="47.80" fill="rgb(255, 37, 0)"/>
<rect x="2615.00" y="1101.40" width="12.70" height="47.80" fill="rgb(255, 27, 0)"/>
<rect x="2627.10" y="1101.40" width="12.70" height="47.80" fill="rgb(255, 16, 0)"/>
<rect x="2639.20" y="1101.40" width="12.70" height="47.80" fill="rgb(255, 5, 0)"/>
<rect x="2651.30" y="1101.40" width="12.70" height="47.80" fill="rgb(250, 0, 0)"/>
<rect x="2663.40" y="1101.40" width="12.70" height="47.80" fill="rgb(239, 0, 0)"/>
<rect x="2675.50" y="1101.40" width="12.70" height="47.80" fill="rgb(228, 0, 0)"/>
<rect x="2687.60" y="1101.40" width="12.70" height="47.80" fill="rgb(218, 0, 0)"/>
<rect x="2699.70" y="1101.40" width="12.70" height="47.80" fill="rgb(207, 0, 0)"/>
<rect x="2711.80" y="1101.40" width="12.70" height="47.80" fill="rgb(197, 0, 0)"/>
<rect x="2723.90" y="1101.40" width="12.70" height="47.80" fill="rgb(186, 0, 0)"/>
<rect x="2736.00" y="1101.40" width="12.70" height="47.80" fill="rgb(175, 0, 0)"/>
<rect x="2748.10" y="1101.40" width="12.70" height="47.80" fill="rgb(165, 0, 0)"/>
<rect x="2760.20" y="1101.40" width="12.70" height="47.80" fill="rgb(154, 0, 0)"/>
<rect x="2772.30" y="1101.40" width="12.70" height="47.80" fill="rgb(143, 0, 0)"/>
<rect x="2784.40" y="1101.40" width="12.70" height="47.80" fill="rgb(133, 0, 0)"/>
<rect x="2796.50" y="1101.40" width="12.70" height="47.80" fill="rgb(122, 0, 0)"/>
<rect x="2808.60" y="1101.40" width="12.70" height="47.80" fill="rgb(112, 0, 0)"/>
<rect x="2820.70" y="1101.40" width="12.70" height="47.80" fill="rgb(101, 0, 0)"/>
<rect x="2832.80" y="1101.40" width="12.70" height="47.80" fill="rgb(90, 0, 0)"/>
<rect x="2844.90" y="1101.40" width="12.70" height="47.80" fill="rgb(80, 0, 0)"/>
<rect x="2857.00" y="1101.40" width="12.70" height="47.80" fill="rgb(69, 0, 0)"/>
<rect x="2869.10" y="1101.40" width="12.70" height="47.80" fill="rgb(58, 0, 0)"/>
<rect x="2881.20" y="1101.40" width="12.70" height="47.80" fill="rgb(48, 0, 0)"/>
<rect x="2893.30" y="1101.40" width="12.70" height="47.80" fill="rgb(37, 0, 0)"/>
<rect x="2905.40" y="1101.40" width="12.70" height="47.80" fill="rgb(27, 0, 0)"/>
<rect x="2917.50" y="1101.40" width="12.70" height="47.80" fill="rgb(16, 0, 0)"/>
<rect x="2929.60" y="1101.40" width="12.70" height="47.80" fill="rgb(5, 0, 0)"/>
<rect x="2167.30" y="1101.40" width="774.40" height="47.80" fill="none" stroke="#404040" stroke-width="1.5"/>
<line x1="2425.43" y1="1101.40" x2="2425.43" y2="1108.40" stroke="#404040" stroke-width="1.5"/>
<line x1="2683.57" y1="1101.40" x2="2683.57" y2="1108.40" stroke="#404040" stroke-width="1.5"/>
<defs><clipPath id="clipB"><path clip-rule="evenodd" d="M0,0H3000V1774H0Z M1644.5,244.5H2027.3V549.2H1644.5Z"/></clipPath></defs>
<g clip-path="url(#clipB)"><rect x="1219.10" y="286.40" width="775.10" height="444.10" fill="none" stroke="#333" stroke-width="1.6"/>
<path d="M1343.20 730.50v-8M1343.20 286.40v8" stroke="#333" stroke-width="1.6"/>
<path d="M1473.50 730.50v-8M1473.50 286.40v8" stroke="#333" stroke-width="1.6"/>
<path d="M1603.80 730.50v-8M1603.80 286.40v8" stroke="#333" stroke-width="1.6"/>
<path d="M1734.10 730.50v-8M1734.10 286.40v8" stroke="#333" stroke-width="1.6"/>
<path d="M1864.40 730.50v-8M1864.40 286.40v8" stroke="#333" stroke-width="1.6"/>
<path d="M1994.70 730.50v-8M1994.70 286.40v8" stroke="#333" stroke-width="1.6"/>
<path d="M1219.10 730.50h8M1994.20 730.50h-8" stroke="#333" stroke-width="1.6"/>
<path d="M1219.10 619.48h8M1994.20 619.48h-8" stroke="#333" stroke-width="1.6"/>
<path d="M1219.10 508.45h8M1994.20 508.45h-8" stroke="#333" stroke-width="1.6"/>
<path d="M1219.10 397.43h8M1994.20 397.43h-8" stroke="#333" stroke-width="1.6"/>
<path d="M1219.10 286.40h8M1994.20 286.40h-8" stroke="#333" stroke-width="1.6"/></g>
<rect x="2159.70" y="275.70" width="773.80" height="454.80" fill="none" stroke="#333" stroke-width="1.6"/>
<path d="M2159.70 730.50v-8M2159.70 275.70v8" stroke="#333" stroke-width="1.6"/>
<path d="M2314.46 730.50v-8M2314.46 275.70v8" stroke="#333" stroke-width="1.6"/>
<path d="M2469.22 730.50v-8M2469.22 275.70v8" stroke="#333" stroke-width="1.6"/>
<path d="M2623.98 730.50v-8M2623.98 275.70v8" stroke="#333" stroke-width="1.6"/>
<path d="M2778.74 730.50v-8M2778.74 275.70v8" stroke="#333" stroke-width="1.6"/>
<path d="M2933.50 730.50v-8M2933.50 275.70v8" stroke="#333" stroke-width="1.6"/>
<path d="M2159.70 730.50h8M2933.50 730.50h-8" stroke="#333" stroke-width="1.6"/>
<path d="M2159.70 641.60h8M2933.50 641.60h-8" stroke="#333" stroke-width="1.6"/>
<path d="M2159.70 552.70h8M2933.50 552.70h-8" stroke="#333" stroke-width="1.6"/>
<path d="M2159.70 463.80h8M2933.50 463.80h-8" stroke="#333" stroke-width="1.6"/>
<path d="M2159.70 374.90h8M2933.50 374.90h-8" stroke="#333" stroke-width="1.6"/>
<path d="M2159.70 286.00h8M2933.50 286.00h-8" stroke="#333" stroke-width="1.6"/>
<rect x="1224.20" y="1202.60" width="774.60" height="443.20" fill="none" stroke="#333" stroke-width="1.6"/>
<path d="M1348.40 1645.80v-8M1348.40 1202.60v8" stroke="#333" stroke-width="1.6"/>
<path d="M1478.90 1645.80v-8M1478.90 1202.60v8" stroke="#333" stroke-width="1.6"/>
<path d="M1609.40 1645.80v-8M1609.40 1202.60v8" stroke="#333" stroke-width="1.6"/>
<path d="M1739.90 1645.80v-8M1739.90 1202.60v8" stroke="#333" stroke-width="1.6"/>
<path d="M1870.40 1645.80v-8M1870.40 1202.60v8" stroke="#333" stroke-width="1.6"/>
<path d="M2000.90 1645.80v-8M2000.90 1202.60v8" stroke="#333" stroke-width="1.6"/>
<path d="M1224.20 1645.80h8M1998.80 1645.80h-8" stroke="#333" stroke-width="1.6"/>
<path d="M1224.20 1535.00h8M1998.80 1535.00h-8" stroke="#333" stroke-width="1.6"/>
<path d="M1224.20 1424.20h8M1998.80 1424.20h-8" stroke="#333" stroke-width="1.6"/>
<path d="M1224.20 1313.40h8M1998.80 1313.40h-8" stroke="#333" stroke-width="1.6"/>
<path d="M1224.20 1202.60h8M1998.80 1202.60h-8" stroke="#333" stroke-width="1.6"/>
<rect x="2167.40" y="1187.70" width="774.30" height="455.60" fill="none" stroke="#333" stroke-width="1.6"/>
<path d="M2167.40 1643.30v-8M2167.40 1187.70v8" stroke="#333" stroke-width="1.6"/>
<path d="M2322.26 1643.30v-8M2322.26 1187.70v8" stroke="#333" stroke-width="1.6"/>
<path d="M2477.12 1643.30v-8M2477.12 1187.70v8" stroke="#333" stroke-width="1.6"/>
<path d="M2631.98 1643.30v-8M2631.98 1187.70v8" stroke="#333" stroke-width="1.6"/>
<path d="M2786.84 1643.30v-8M2786.84 1187.70v8" stroke="#333" stroke-width="1.6"/>
<path d="M2941.70 1643.30v-8M2941.70 1187.70v8" stroke="#333" stroke-width="1.6"/>
<path d="M2167.40 1643.30h8M2941.70 1643.30h-8" stroke="#333" stroke-width="1.6"/>
<path d="M2167.40 1554.20h8M2941.70 1554.20h-8" stroke="#333" stroke-width="1.6"/>
<path d="M2167.40 1465.10h8M2941.70 1465.10h-8" stroke="#333" stroke-width="1.6"/>
<path d="M2167.40 1376.00h8M2941.70 1376.00h-8" stroke="#333" stroke-width="1.6"/>
<path d="M2167.40 1286.90h8M2941.70 1286.90h-8" stroke="#333" stroke-width="1.6"/>
<path d="M2167.40 1197.80h8M2941.70 1197.80h-8" stroke="#333" stroke-width="1.6"/>
<line x1="1219.0" y1="392.9" x2="1342.4" y2="392.9" stroke="#000" stroke-width="3.9" stroke-dasharray="15.8 12.2" fill="none"/>
<line x1="1220.9" y1="391" x2="1220.9" y2="734" stroke="#000" stroke-width="3.9" stroke-dasharray="15.8 12.2" fill="none" stroke-dashoffset="11.3"/>
<line x1="1340.9" y1="392" x2="1340.9" y2="734" stroke="#000" stroke-width="3.9" stroke-dasharray="15.8 12.2" fill="none" stroke-dashoffset="10.2"/>
<line x1="1227" y1="731.6" x2="1342" y2="731.6" stroke="#000" stroke-width="3.9" stroke-dasharray="15.8 12.2" fill="none"/>
<line x1="1342.4" y1="392.9" x2="1644.5" y2="244.5" stroke="#000" stroke-width="3.9" stroke-dasharray="15.8 12.2" fill="none"/>
<line x1="1343.2" y1="734.3" x2="1644.5" y2="549.2" stroke="#000" stroke-width="3.9" stroke-dasharray="15.8 12.2" fill="none"/>
<rect x="1645.8" y="245.8" width="380" height="302.1" fill="none" stroke="#000" stroke-width="2.8"/>
<rect x="1677.90" y="269.40" width="328.00" height="244.20" fill="none" stroke="#555" stroke-width="1.6"/>
<path d="M1733.00 513.60v-4M1733.00 269.40v4" stroke="#555" stroke-width="1.6"/>
<path d="M1801.00 513.60v-4M1801.00 269.40v4" stroke="#555" stroke-width="1.6"/>
<path d="M1869.00 513.60v-4M1869.00 269.40v4" stroke="#555" stroke-width="1.6"/>
<path d="M1937.00 513.60v-4M1937.00 269.40v4" stroke="#555" stroke-width="1.6"/>
<path d="M2005.00 513.60v-4M2005.00 269.40v4" stroke="#555" stroke-width="1.6"/>
<path d="M1677.90 513.60h4M2005.90 513.60h-4" stroke="#555" stroke-width="1.6"/>
<path d="M1677.90 432.20h4M2005.90 432.20h-4" stroke="#555" stroke-width="1.6"/>
<path d="M1677.90 350.80h4M2005.90 350.80h-4" stroke="#555" stroke-width="1.6"/>
<path d="M1677.90 269.40h4M2005.90 269.40h-4" stroke="#555" stroke-width="1.6"/>
<text transform="translate(1661.67,520.00) scale(1.0000,1)" font-size="18.50" font-weight="normal" fill="#262626">0</text>
<text transform="translate(1661.67,438.60) scale(1.0000,1)" font-size="18.50" font-weight="normal" fill="#262626">5</text>
<text transform="translate(1651.40,357.20) scale(1.0000,1)" font-size="18.50" font-weight="normal" fill="#262626">10</text>
<text transform="translate(1651.40,275.80) scale(1.0000,1)" font-size="18.50" font-weight="normal" fill="#262626">15</text>
<text transform="translate(1733.00,537.80) scale(1.0000,1)" font-size="18.50" font-weight="normal" text-anchor="middle" fill="#262626">10</text>
<text transform="translate(1801.00,537.80) scale(1.0000,1)" font-size="18.50" font-weight="normal" text-anchor="middle" fill="#262626">20</text>
<text transform="translate(1869.00,537.80) scale(1.0000,1)" font-size="18.50" font-weight="normal" text-anchor="middle" fill="#262626">30</text>
<text transform="translate(1937.00,537.80) scale(1.0000,1)" font-size="18.50" font-weight="normal" text-anchor="middle" fill="#262626">40</text>
<text transform="translate(2005.00,537.80) scale(1.0000,1)" font-size="18.50" font-weight="normal" text-anchor="middle" fill="#262626">50</text>
<path d="M1686.1,482.6 V383.7 A20,20 0 0 1 1706.1,363.7 H1736.7 V329.7 L1767.1,369.1 L1736.7,410.4 V376.4 H1705.5 A6,6 0 0 0 1699.5,382.4 V482.6 Z" fill="#1ba1e2"/>
<text transform="translate(1343.20,782.40) scale(1.0000,1)" font-size="43.00" font-weight="normal" text-anchor="middle" fill="#262626">50</text>
<text transform="translate(1348.40,1698.70) scale(1.0000,1)" font-size="43.00" font-weight="normal" text-anchor="middle" fill="#262626">50</text>
<text transform="translate(1473.50,782.40) scale(1.0000,1)" font-size="43.00" font-weight="normal" text-anchor="middle" fill="#262626">100</text>
<text transform="translate(1478.90,1698.70) scale(1.0000,1)" font-size="43.00" font-weight="normal" text-anchor="middle" fill="#262626">100</text>
<text transform="translate(1603.80,782.40) scale(1.0000,1)" font-size="43.00" font-weight="normal" text-anchor="middle" fill="#262626">150</text>
<text transform="translate(1609.40,1698.70) scale(1.0000,1)" font-size="43.00" font-weight="normal" text-anchor="middle" fill="#262626">150</text>
<text transform="translate(1734.10,782.40) scale(1.0000,1)" font-size="43.00" font-weight="normal" text-anchor="middle" fill="#262626">200</text>
<text transform="translate(1739.90,1698.70) scale(1.0000,1)" font-size="43.00" font-weight="normal" text-anchor="middle" fill="#262626">200</text>
<text transform="translate(1864.40,782.40) scale(1.0000,1)" font-size="43.00" font-weight="normal" text-anchor="middle" fill="#262626">250</text>
<text transform="translate(1870.40,1698.70) scale(1.0000,1)" font-size="43.00" font-weight="normal" text-anchor="middle" fill="#262626">250</text>
<text transform="translate(1994.70,782.40) scale(1.0000,1)" font-size="43.00" font-weight="normal" text-anchor="middle" fill="#262626">300</text>
<text transform="translate(2000.90,1698.70) scale(1.0000,1)" font-size="43.00" font-weight="normal" text-anchor="middle" fill="#262626">300</text>
<text transform="translate(2159.70,783.00) scale(1.0000,1)" font-size="43.00" font-weight="normal" text-anchor="middle" fill="#262626">0</text>
<text transform="translate(2167.40,1696.00) scale(1.0000,1)" font-size="43.00" font-weight="normal" text-anchor="middle" fill="#262626">0</text>
<text transform="translate(2314.46,783.00) scale(1.0000,1)" font-size="43.00" font-weight="normal" text-anchor="middle" fill="#262626">2</text>
<text transform="translate(2322.26,1696.00) scale(1.0000,1)" font-size="43.00" font-weight="normal" text-anchor="middle" fill="#262626">2</text>
<text transform="translate(2469.22,783.00) scale(1.0000,1)" font-size="43.00" font-weight="normal" text-anchor="middle" fill="#262626">4</text>
<text transform="translate(2477.12,1696.00) scale(1.0000,1)" font-size="43.00" font-weight="normal" text-anchor="middle" fill="#262626">4</text>
<text transform="translate(2623.98,783.00) scale(1.0000,1)" font-size="43.00" font-weight="normal" text-anchor="middle" fill="#262626">6</text>
<text transform="translate(2631.98,1696.00) scale(1.0000,1)" font-size="43.00" font-weight="normal" text-anchor="middle" fill="#262626">6</text>
<text transform="translate(2778.74,783.00) scale(1.0000,1)" font-size="43.00" font-weight="normal" text-anchor="middle" fill="#262626">8</text>
<text transform="translate(2786.84,1696.00) scale(1.0000,1)" font-size="43.00" font-weight="normal" text-anchor="middle" fill="#262626">8</text>
<text transform="translate(2933.50,783.00) scale(1.0000,1)" font-size="43.00" font-weight="normal" text-anchor="middle" fill="#262626">10</text>
<text transform="translate(2941.70,1696.00) scale(1.0000,1)" font-size="43.00" font-weight="normal" text-anchor="middle" fill="#262626">10</text>
<text transform="translate(1181.76,745.60) scale(1.0000,1)" font-size="43.00" font-weight="normal" fill="#262626">0</text>
<text transform="translate(1186.26,1660.90) scale(1.0000,1)" font-size="43.00" font-weight="normal" fill="#262626">0</text>
<text transform="translate(1181.76,634.58) scale(1.0000,1)" font-size="43.00" font-weight="normal" fill="#262626">5</text>
<text transform="translate(1186.26,1550.10) scale(1.0000,1)" font-size="43.00" font-weight="normal" fill="#262626">5</text>
<text transform="translate(1157.89,523.55) scale(1.0000,1)" font-size="43.00" font-weight="normal" fill="#262626">10</text>
<text transform="translate(1162.39,1439.30) scale(1.0000,1)" font-size="43.00" font-weight="normal" fill="#262626">10</text>
<text transform="translate(1157.89,412.53) scale(1.0000,1)" font-size="43.00" font-weight="normal" fill="#262626">15</text>
<text transform="translate(1162.39,1328.50) scale(1.0000,1)" font-size="43.00" font-weight="normal" fill="#262626">15</text>
<text transform="translate(1157.89,301.50) scale(1.0000,1)" font-size="43.00" font-weight="normal" fill="#262626">20</text>
<text transform="translate(1162.39,1217.70) scale(1.0000,1)" font-size="43.00" font-weight="normal" fill="#262626">20</text>
<text transform="translate(2121.86,745.60) scale(1.0000,1)" font-size="43.00" font-weight="normal" fill="#262626">0</text>
<text transform="translate(2129.45,1658.40) scale(1.0000,1)" font-size="43.00" font-weight="normal" fill="#262626">0</text>
<text transform="translate(2086.38,656.70) scale(1.0000,1)" font-size="43.00" font-weight="normal" fill="#262626">0.1</text>
<text transform="translate(2093.98,1569.30) scale(1.0000,1)" font-size="43.00" font-weight="normal" fill="#262626">0.1</text>
<text transform="translate(2086.38,567.80) scale(1.0000,1)" font-size="43.00" font-weight="normal" fill="#262626">0.2</text>
<text transform="translate(2093.98,1480.20) scale(1.0000,1)" font-size="43.00" font-weight="normal" fill="#262626">0.2</text>
<text transform="translate(2086.16,478.90) scale(1.0000,1)" font-size="43.00" font-weight="normal" fill="#262626">0.3</text>
<text transform="translate(2093.76,1391.10) scale(1.0000,1)" font-size="43.00" font-weight="normal" fill="#262626">0.3</text>
<text transform="translate(2085.52,390.00) scale(1.0000,1)" font-size="43.00" font-weight="normal" fill="#262626">0.4</text>
<text transform="translate(2093.12,1302.00) scale(1.0000,1)" font-size="43.00" font-weight="normal" fill="#262626">0.4</text>
<text transform="translate(2085.95,301.10) scale(1.0000,1)" font-size="43.00" font-weight="normal" fill="#262626">0.5</text>
<text transform="translate(2093.55,1212.90) scale(1.0000,1)" font-size="43.00" font-weight="normal" fill="#262626">0.5</text>
<text transform="translate(1219.10,167.80) scale(1.0000,1)" font-size="43.00" font-weight="normal" text-anchor="middle" fill="#262626">22</text>
<text transform="translate(1224.10,1084.00) scale(1.0000,1)" font-size="43.00" font-weight="normal" text-anchor="middle" fill="#262626">22</text>
<text transform="translate(1477.47,167.80) scale(1.0000,1)" font-size="43.00" font-weight="normal" text-anchor="middle" fill="#262626">24</text>
<text transform="translate(1482.60,1084.00) scale(1.0000,1)" font-size="43.00" font-weight="normal" text-anchor="middle" fill="#262626">24</text>
<text transform="translate(1735.83,167.80) scale(1.0000,1)" font-size="43.00" font-weight="normal" text-anchor="middle" fill="#262626">26</text>
<text transform="translate(1741.10,1084.00) scale(1.0000,1)" font-size="43.00" font-weight="normal" text-anchor="middle" fill="#262626">26</text>
<text transform="translate(1994.20,167.80) scale(1.0000,1)" font-size="43.00" font-weight="normal" text-anchor="middle" fill="#262626">28</text>
<text transform="translate(1999.60,1084.00) scale(1.0000,1)" font-size="43.00" font-weight="normal" text-anchor="middle" fill="#262626">28</text>
<text transform="translate(2159.40,167.60) scale(1.0000,1)" font-size="43.00" font-weight="normal" text-anchor="middle" fill="#262626">-4</text>
<text transform="translate(2167.30,1080.00) scale(1.0000,1)" font-size="43.00" font-weight="normal" text-anchor="middle" fill="#262626">-4</text>
<text transform="translate(2417.50,167.60) scale(1.0000,1)" font-size="43.00" font-weight="normal" text-anchor="middle" fill="#262626">-2</text>
<text transform="translate(2425.43,1080.00) scale(1.0000,1)" font-size="43.00" font-weight="normal" text-anchor="middle" fill="#262626">-2</text>
<text transform="translate(2675.60,167.60) scale(1.0000,1)" font-size="43.00" font-weight="normal" text-anchor="middle" fill="#262626">0</text>
<text transform="translate(2683.57,1080.00) scale(1.0000,1)" font-size="43.00" font-weight="normal" text-anchor="middle" fill="#262626">0</text>
<text transform="translate(2933.70,167.60) scale(1.0000,1)" font-size="43.00" font-weight="normal" text-anchor="middle" fill="#262626">2</text>
<text transform="translate(2941.70,1080.00) scale(1.0000,1)" font-size="43.00" font-weight="normal" text-anchor="middle" fill="#262626">2</text>
<text transform="translate(213.30,173.50) scale(0.9650,1)" font-size="41.00" font-weight="bold" text-anchor="middle" fill="#262626">-0.2</text>
<text transform="translate(212.90,1086.00) scale(0.9650,1)" font-size="41.00" font-weight="bold" text-anchor="middle" fill="#262626">-0.2</text>
<text transform="translate(387.05,173.50) scale(0.9650,1)" font-size="41.00" font-weight="bold" text-anchor="middle" fill="#262626">-0.1</text>
<text transform="translate(386.65,1086.00) scale(0.9650,1)" font-size="41.00" font-weight="bold" text-anchor="middle" fill="#262626">-0.1</text>
<text transform="translate(560.80,173.50) scale(0.9650,1)" font-size="41.00" font-weight="bold" text-anchor="middle" fill="#262626">0</text>
<text transform="translate(560.40,1086.00) scale(0.9650,1)" font-size="41.00" font-weight="bold" text-anchor="middle" fill="#262626">0</text>
<text transform="translate(734.55,173.50) scale(0.9650,1)" font-size="41.00" font-weight="bold" text-anchor="middle" fill="#262626">0.1</text>
<text transform="translate(734.15,1086.00) scale(0.9650,1)" font-size="41.00" font-weight="bold" text-anchor="middle" fill="#262626">0.1</text>
<text transform="translate(908.30,173.50) scale(0.9650,1)" font-size="41.00" font-weight="bold" text-anchor="middle" fill="#262626">0.2</text>
<text transform="translate(907.90,1086.00) scale(0.9650,1)" font-size="41.00" font-weight="bold" text-anchor="middle" fill="#262626">0.2</text>
<text transform="translate(957.92,228.09) scale(1.0130,1)" font-size="49.09" font-weight="normal" fill="#262626">[m/s]</text>
<text transform="translate(956.57,1147.49) scale(1.0261,1)" font-size="49.09" font-weight="normal" fill="#262626">[m/s]</text>
<text transform="translate(2023.30,223.35) scale(1.0718,1)" font-size="49.30" font-weight="normal" fill="#262626">[dB]</text>
<text transform="translate(2024.48,1141.21) scale(1.0859,1)" font-size="47.59" font-weight="normal" fill="#262626">[dB]</text>
<text transform="translate(1254.51,356.91) scale(1.0162,1)" font-size="66.63" font-weight="bold" fill="#000">(b)</text>
<text transform="translate(2194.82,347.12) scale(0.9782,1)" font-size="67.06" font-weight="bold" fill="#000">(c)</text>
<text transform="translate(1263.65,1274.08) scale(1.0000,1)" font-size="67.00" font-weight="bold" fill="#000">(e)</text>
<text transform="translate(2203.25,1264.98) scale(1.0000,1)" font-size="67.00" font-weight="bold" fill="#000">(f)</text>
<text transform="translate(23.98,348.28) scale(0.9821,1)" font-size="67.70" font-weight="bold" fill="#000">(a)</text>
<text transform="translate(19.57,1237.81) scale(1.0000,1)" font-size="66.50" font-weight="bold" fill="#000">(d)</text>
<text transform="translate(24.20,485.62) scale(1.0106,1)" font-size="49.41" font-weight="bold" fill="#000">Velocity</text>
<text transform="translate(30.51,1399.70) scale(1.0000,1)" font-size="49.40" font-weight="bold" fill="#000">Velocity</text>
<text transform="translate(1417.02,836.87) scale(1.0172,1)" font-size="46.31" font-weight="bold" fill="#262626">Cylinder Number</text>
<text transform="translate(1421.01,1753.57) scale(1.0180,1)" font-size="46.30" font-weight="bold" fill="#262626">Cylinder Number</text>
<text transform="translate(2435.07,838.57) scale(1.0180,1)" font-size="46.30" font-weight="bold" fill="#262626">Time [ms]</text>
<text transform="translate(2443.07,1750.57) scale(1.0180,1)" font-size="46.30" font-weight="bold" fill="#262626">Time [ms]</text>
<text transform="translate(1140.38,690.36) rotate(-90) scale(1.0382,1)" font-size="45.35" font-weight="bold" fill="#262626">Frequency [kHz]</text>
<text transform="translate(2069.12,713.50) rotate(-90) scale(0.9825,1)" font-size="45.13" font-weight="bold" fill="#262626">Wave Number [x2<tspan font-family="Liberation Serif" font-style="italic" font-weight="normal">π</tspan>]</text>
<text transform="translate(140.18,629.97) scale(0.9650,1)" font-size="43.38" font-weight="bold" fill="#262626">150</text>
<text transform="translate(265.49,692.57) scale(0.9650,1)" font-size="43.24" font-weight="bold" fill="#262626">100</text>
<text transform="translate(414.93,756.26) scale(0.9650,1)" font-size="43.80" font-weight="bold" fill="#262626">50</text>
<text transform="translate(563.82,818.19) scale(0.9650,1)" font-size="40.99" font-weight="bold" fill="#262626">0</text>
<text transform="translate(627.92,814.99) scale(0.9650,1)" font-size="40.99" font-weight="bold" fill="#262626">0</text>
<text transform="translate(732.64,740.00) scale(0.9650,1)" font-size="40.14" font-weight="bold" fill="#262626">2</text>
<text transform="translate(839.07,665.50) scale(0.9650,1)" font-size="43.62" font-weight="bold" fill="#262626">4</text>
<text transform="translate(942.92,588.59) scale(0.9650,1)" font-size="40.99" font-weight="bold" fill="#262626">6</text>
<text transform="translate(80.32,812.39) scale(1.0291,1)" font-size="45.78" font-weight="bold" fill="#262626">Cylinder Number</text>
<text transform="translate(740.03,799.58) scale(1.2004,1)" font-size="39.14" font-weight="bold" fill="#262626">Time [ms]</text>
<text transform="translate(153.95,1523.18) scale(0.9650,1)" font-size="42.25" font-weight="bold" fill="#262626">150</text>
<text transform="translate(280.32,1585.00) scale(0.9650,1)" font-size="39.58" font-weight="bold" fill="#262626">100</text>
<text transform="translate(429.66,1648.61) scale(0.9650,1)" font-size="39.44" font-weight="bold" fill="#262626">50</text>
<text transform="translate(579.17,1710.53) scale(0.9650,1)" font-size="37.04" font-weight="bold" fill="#262626">0</text>
<text transform="translate(642.70,1710.00) scale(0.9650,1)" font-size="41.50" font-weight="bold" fill="#262626">0</text>
<text transform="translate(747.70,1634.10) scale(0.9650,1)" font-size="41.50" font-weight="bold" fill="#262626">2</text>
<text transform="translate(853.40,1559.00) scale(0.9650,1)" font-size="41.50" font-weight="bold" fill="#262626">4</text>
<text transform="translate(957.50,1483.10) scale(0.9650,1)" font-size="41.50" font-weight="bold" fill="#262626">6</text>
<text transform="translate(88.13,1705.20) scale(1.0200,1)" font-size="45.80" font-weight="bold" fill="#262626">Cylinder Number</text>
<text transform="translate(754.33,1688.40) scale(1.0200,1)" font-size="45.80" font-weight="bold" fill="#262626">Time [ms]</text>
<text transform="translate(1146.09,1606.06) rotate(-90) scale(1.0274,1)" font-size="45.78" font-weight="bold" fill="#262626">Frequency [kHz]</text>
<text transform="translate(2077.79,1626.00) rotate(-90) scale(0.9222,1)" font-size="48.13" font-weight="bold" fill="#262626">Wave Number [x2<tspan font-family="Liberation Serif" font-style="italic" font-weight="normal">π</tspan>]</text>
<line x1="231.9" y1="381.0" x2="231.9" y2="576.4" stroke="#333" stroke-width="1.5"/>
<line x1="231.7" y1="576.4" x2="615.5" y2="769.7" stroke="#333" stroke-width="1.5"/>
<line x1="597.8" y1="771.7" x2="920.5" y2="540.3" stroke="#333" stroke-width="1.5"/>
<line x1="231.7" y1="576.4" x2="222.8" y2="582.8" stroke="#333" stroke-width="1.5"/>
<line x1="356.7" y1="639.4" x2="347.8" y2="645.8" stroke="#333" stroke-width="1.5"/>
<line x1="481.7" y1="702.3" x2="472.8" y2="708.7" stroke="#333" stroke-width="1.5"/>
<line x1="711.3" y1="690.3" x2="720.1" y2="694.7" stroke="#333" stroke-width="1.5"/>
<line x1="815.9" y1="615.3" x2="824.7" y2="619.7" stroke="#333" stroke-width="1.5"/>
<line x1="920.5" y1="540.3" x2="929.2" y2="544.7" stroke="#333" stroke-width="1.5"/>
<line x1="245.2" y1="1275.0" x2="245.2" y2="1471.2" stroke="#333" stroke-width="1.5"/>
<line x1="245.4" y1="1471.2" x2="628.5" y2="1664.9" stroke="#333" stroke-width="1.5"/>
<line x1="610.9" y1="1666.9" x2="934.8" y2="1434.3" stroke="#333" stroke-width="1.5"/>
<line x1="245.4" y1="1471.2" x2="236.5" y2="1477.6" stroke="#333" stroke-width="1.5"/>
<line x1="370.2" y1="1534.3" x2="361.3" y2="1540.7" stroke="#333" stroke-width="1.5"/>
<line x1="495.0" y1="1597.4" x2="486.1" y2="1603.8" stroke="#333" stroke-width="1.5"/>
<line x1="724.8" y1="1585.1" x2="733.5" y2="1589.5" stroke="#333" stroke-width="1.5"/>
<line x1="829.8" y1="1509.7" x2="838.5" y2="1514.1" stroke="#333" stroke-width="1.5"/>
<line x1="934.8" y1="1434.3" x2="943.5" y2="1438.7" stroke="#333" stroke-width="1.5"/>
<text transform="translate(1089.00,70.00) scale(0.9224,1)" font-size="52.17" font-weight="bold" fill="#000">Angles {18<tspan baseline-shift="45%" font-size="62%">o</tspan>, 90<tspan baseline-shift="45%" font-size="62%">o</tspan>}: Wave attenuation</text>
<text transform="translate(1078.51,975.70) scale(0.9166,1)" font-size="52.03" font-weight="bold" fill="#000">Angles {8<tspan baseline-shift="45%" font-size="62%">o</tspan>, 90<tspan baseline-shift="45%" font-size="62%">o</tspan>}: Wave transmittance</text>
</svg></div>
<script>
(function(){
const cv = document.getElementById('cv');
const ctx = cv.getContext('2d');
function clamp(x,a,b){return x<a?a:(x>b?b:x);}
function hotr(t){t=clamp(t,0,1);
  if(t<0.25) return [255,255,255*(1-t/0.25)];
  if(t<0.625) return [255,255*(1-(t-0.25)/0.375),0];
  return [255*(1-(t-0.625)/0.375),0,0];}
function jet(t){t=clamp(t,0,1);
  const s=x=>clamp(1.5-Math.abs(x),0,1);
  return [255*s(4*t-3),255*s(4*t-2),255*s(4*t-1)];}
function hash(i,j,s){let h=(i*374761393+j*668265263+(s|0)*2147483647)|0;h=(h^(h>>>13))*1274126177|0;h=h^(h>>>16);return (h>>>0)/4294967296;}
function vnoise(x,y,s){const xi=Math.floor(x),yi=Math.floor(y);const fx=x-xi,fy=y-yi;
  const u=fx*fx*(3-2*fx),v=fy*fy*(3-2*fy);
  const a=hash(xi,yi,s),b=hash(xi+1,yi,s),c=hash(xi,yi+1,s),d=hash(xi+1,yi+1,s);
  return a+(b-a)*u+(c-a)*v+(a-b-c+d)*u*v;}
function fbm(x,y,s){return 0.5*vnoise(x,y,s)+0.3*vnoise(2.1*x,2.1*y,s+7)+0.2*vnoise(4.3*x,4.3*y,s+13);}
function smooth(e0,e1,x){const t=clamp((x-e0)/(e1-e0),0,1);return t*t*(3-2*t);}
// render a heatmap region: fn(px,py) -> t (hot) 
function heat(x0,y0,x1,y1,fn,cmap){
  const X0=Math.floor(x0),Y0=Math.floor(y0),X1=Math.ceil(x1),Y1=Math.ceil(y1);
  const w=X1-X0,h=Y1-Y0;
  const img=ctx.createImageData(w,h);const d=img.data;
  cmap=cmap||hotr;
  for(let j=0;j<h;j++){for(let i=0;i<w;i++){
    const px=X0+i+0.5,py=Y0+j+0.5;
    const t=fn(px,py);
    const c=(t.length?t:cmap(t));
    const k=(j*w+i)*4;d[k]=c[0];d[k+1]=c[1];d[k+2]=c[2];d[k+3]=255;}}
  ctx.putImageData(img,X0,Y0);
}
window.__heat={hotr,jet,hash,vnoise,fbm,smooth,clamp,heat,ctx};

// ---------------- panel (e)
heat(1224.2,1202.6,1998.8,1645.8,function(px,py){
  const c=(px-1217.9)/2.61, f=(1645.8-py)/22.16;
  const phi=0.0097*f*(c+25);
  const m=Math.cos(2*Math.PI*phi);
  const top=7.1+0.35*(1-smooth(0,80,c));
  const env=1-smooth(top-1.4,top+0.2,f+0.3*(0.5-0.5*m));
  const base=0.27+0.25*Math.exp(-f/2.8);
  const amp=0.08+0.09*Math.exp(-c/70);
  let t=(base+amp*m)*env;
  t=Math.max(t, 0.68*(1-smooth(0.0,0.4,f)));
  t+= 0.3*Math.exp(-(c-2)/4)*(1-smooth(2,5,f));
  return t;
});
// ---------------- panel (f)
heat(2167.4,1187.7,2941.7,1643.3,function(px,py){
  const k=(1643.3-py)/891, t=(px-2167.4)/77.43;
  if(t<0.09){
    return k<0.21 ? 0.70 : (k<0.5 ? 0.22 : 0.15);
  }
  const u=(k-0.005)*(t-0.1);
  const D=0.0135*(1+0.32*Math.max(0,t-0.8));
  const phi1=u/D;
  const m1=Math.cos(2*Math.PI*(phi1-0.55));
  const phi2=k*(16.0-t)/0.05;
  const m2=Math.cos(2*Math.PI*phi2);
  const w2=smooth(1.5,5,t);
  const lat=(0.5+0.5*m1)*(1-0.6*w2*(0.5-0.5*m2));
  const B=0.80*Math.exp(-Math.pow(k/0.19,2));
  const A=0.38*(1-smooth(0.05,0.24,k))+0.12;
  const env=1-smooth(0.17,0.255,k);
  let val=(B - A*0.45 + A*lat)*env;
  // near-left: bright thin curves on dark base
  const left=(1-smooth(0.8,3.2,t))*(1-smooth(0.14,0.24,k));
  if(left>0){
    const line=Math.pow(0.5+0.5*m1,4);
    const dark=0.93-0.45*smooth(0.06,0.2,k);
    const lv=dark-(dark-0.33)*line;
    val=val*(1-left)+lv*left;
  }
  const band=smooth(0.29,0.33,k)*(1-smooth(0.39,0.43,k))*smooth(0.1,0.6,t);
  val=Math.max(val, band*0.018*(0.5+0.5*m1));
  if(u<0.0105 && k<0.16){ const g=smooth(0.0105,0.007,u); val=Math.max(val, g*(0.95-0.3*smooth(0.08,0.16,k))); }
  return val;
});
// ---------------- panel (c)
heat(2159.7,275.7,2933.5,730.5,function(px,py){
  const k=(730.5-py)/889, t=(px-2159.7)/77.38;
  if(t<0.1){
    return 0.72*(1-smooth(0.2,0.45,k)) + 0.25*smooth(0.2,0.45,k);
  }
  const u=(k-0.005)*(t-0.1);
  const D=0.03;
  const phi1=u/D;
  const m1=Math.cos(2*Math.PI*(phi1-0.55));
  const line=0.5+0.5*m1;
  let val=0;
  // hyperbolic curves near bottom-left, strong, fading outward
  const r=Math.sqrt((t/2.2)*(t/2.2)+(k/0.22)*(k/0.22));
  const A1=Math.exp(-r*r*1.5);
  const dots=(0.5+0.5*Math.cos(2*Math.PI*px/3.1))*(0.5+0.5*Math.cos(2*Math.PI*py/3.4));
  val=A1*(0.05+0.85*line*line);
  // dotted curves continuing outward (mesh)
  const mesh=Math.exp(-r*r*0.35)*(1-A1);
  val=Math.max(val, mesh*line*line*(0.1+0.35*dots));
  // dense low-k stripes across width (k<0.09)
  const lowk=(1-smooth(0.065,0.1,k))*smooth(1.2,3.0,t);
  const chk=0.5+0.5*Math.cos(2*Math.PI*(t/0.08));
  const dv=0.42+0.5*line*(0.75+0.25*chk) + 0.1*(1-smooth(0.02,0.06,k)) - 0.2*Math.pow(1-line,3)*chk;
  val=Math.max(val, lowk*dv);
  // black bottom
  val=Math.max(val, 0.96*(1-smooth(0.014,0.024,k)));
  if(u<0.012 && k<0.15){ const g=smooth(0.012,0.008,u); val=Math.max(val, g*(0.95-0.3*smooth(0.08,0.15,k))); }
  // blob wedge around k=0.287
  const hw=Math.max(0.004, 0.05*(1-t/3.0));
  const dk=(k-0.287)/hw;
  const blob=Math.exp(-dk*dk*1.3)*smooth(0.1,0.35,t)*(1-smooth(2.2,3.0,t));
  const stripe=0.5+0.5*Math.cos(2*Math.PI*t/0.1);
  const core=smooth(0.2,0.8,t)*(1-smooth(1.5,2.6,t));
  const bn=vnoise(px/6,py/4,61);
  val=Math.max(val, blob*(0.3+0.25*core+0.22*stripe+0.18*bn)*(0.75+0.5*dots));
  // vertical stripes near left column, k 0.05-0.5
  const vs=(1-smooth(0.12,0.5,t))*smooth(0.05,0.15,k)*(1-smooth(0.4,0.5,k));
  val=Math.max(val, vs*(0.15+0.45*(0.5+0.5*Math.cos(2*Math.PI*t/0.08))));
  // dotted arc streaks (upper region)
  const phiU=(k-0.005)*(t+0.3)/0.13;
  const lineU=Math.pow(0.5+0.5*Math.cos(2*Math.PI*phiU),3);
  const phiV=k*(15-t)/0.16;
  const lineV=Math.pow(0.5+0.5*Math.cos(2*Math.PI*phiV),6);
  const nA=vnoise(px/55,py/35,21)*0.65+vnoise(px/18,py/12,33)*0.35;
  const regU=smooth(0.5,2.2,t)*smooth(0.06,0.11,k);
  const amp=smooth(0.3,0.72,nA)*regU*(0.8+0.4*smooth(0.1,0.3,k)*smooth(3,7,t));
  const cross=smooth(2,4,t)*(1-smooth(6,8,t))*smooth(0.15,0.22,k)*(1-smooth(0.35,0.45,k));
  const streak=amp*Math.max(lineU, 0.6*cross*lineV);
  val=Math.max(val, streak*(0.12+0.55*dots));
  // faint dotted background haze
  val=Math.max(val, regU*0.06*dots*smooth(0.3,0.6,nA));
  return val;
});
// ---------------- panel (b)
function fieldB(c,f,px,py,dotsOverride){
  let val=0;
  const dots=dotsOverride!==undefined?dotsOverride:(0.5+0.5*Math.cos(2*Math.PI*px/3.0))*(0.5+0.5*Math.cos(2*Math.PI*py/3.2));
  // left column
  if(c<3.0){ return f<1.2?0.8:(f<9.0 ? 0.62-0.035*f : (f<13.5?0.22:0.03)); }
  // concentric arcs (left)
  const rs=Math.pow(Math.max(c-1,0)/13.5,0.55)+Math.pow(Math.max(f,0),0.55);
  const Fa=Math.pow(rs,1.818);
  const mA=0.5+0.5*Math.cos(2*Math.PI*(Math.sqrt(Fa)-2.12)/0.27);
  const ampA=(1-smooth(10.5,13.5,Fa))*(1-smooth(8.3,9.0,f));
  const darkA=0.6-0.36*smooth(4.5,11,Fa);
  val=ampA*(0.02+darkA*Math.pow(mA,2.0));
  // 10 kHz band
  const fb=8.8+0.002*c+0.0002*c*c;
  const hwb=0.55*(1-smooth(3,70,c))+0.18;
  const db=(f-fb)/hwb;
  const vstr=0.5+0.5*Math.cos(2*Math.PI*c/2.0);
  const band=Math.exp(-db*db)*(1-smooth(60,78,c));
  val=Math.max(val, band*(0.74+0.08*vstr)*(1-0.25*smooth(40,78,c)));
  // vertical teeth above band
  const ftop=fb+1.4+2.2*(1-smooth(3,14,c));
  const above=smooth(fb,fb+0.35,f)*(1-smooth(ftop-0.8,ftop,f))*(1-smooth(50,68,c));
  val=Math.max(val, above*Math.pow(vstr,2)*(0.12+0.42*(1-smooth(fb,ftop,f))));
  // stripes below band (left)
  const below=(1-smooth(fb-0.5,fb,f))*smooth(5,7.5,f)*(1-smooth(9,16,c));
  val=Math.max(val, below*Math.pow(vstr,2)*0.45);
  // bottom dark line / corner
  const bl=Math.max(1-smooth(0.2,0.36,f), 1-smooth(3.2,4.0,Fa));
  val=Math.max(val, bl*0.93);
  // low freq region (c>45)
  const lf=smooth(30,75,c)*(1-smooth(2.6,3.4,f))*smooth(0.25,0.4,f);
  const nL=vnoise(c/9,f*2.6,7)*0.6+vnoise(c/3,f*6,8)*0.4;
  const hstr=0.5+0.5*Math.cos(2*Math.PI*f/0.36+vnoise(c/25,f*0.7,9)*4);
  let lfv=(0.08+0.38*smooth(0.45,0.8,nL))*(0.4+0.6*hstr)*(0.55+0.45*dots);
  // strong orange belt at ~1 kHz for c>120
  const belt=Math.exp(-Math.pow((f-1.05-0.25*(1-smooth(120,300,c)))/0.28,2))*smooth(90,170,c);
  lfv=Math.max(lfv, belt*(0.48+0.12*hstr));
  const belt2=Math.exp(-Math.pow((f-1.9)/0.35,2))*smooth(150,260,c);
  lfv=Math.max(lfv, belt2*(0.25+0.15*hstr)*(0.6+0.4*dots));
  val=Math.max(val, lf*lfv);
  // thin lines at higher f (c>180)
  const l1=Math.exp(-Math.pow((f-3.2+0.002*(c-200))/0.12,2))*smooth(180,220,c)*smooth(0.3,0.6,vnoise(c/12,1,51));
  const l2=Math.exp(-Math.pow((f-5.2-0.004*(c-240))/0.15,2))*smooth(185,205,c)*(1-smooth(270,290,c));
  const l3=Math.exp(-Math.pow((f-6.4-0.004*(c-150))/0.15,2))*smooth(120,140,c)*(1-smooth(215,240,c));
  val=Math.max(val, Math.max(l1*0.22, l2*0.3, l3*0.28)*(0.5+0.5*dots));
  // sparse speckles mid-frequency
  const mid=smooth(55,80,c)*smooth(3.5,4.5,f)*(1-smooth(9.5,12,f));
  const nS=vnoise(c/4,f*1.4,41)*0.6+vnoise(c/1.3,f*4,42)*0.4;
  val=Math.max(val, mid*smooth(0.68,0.88,nS)*(0.05+0.4*dots));
  // dark vertical spots
  const spots=[[91,8.5,0.85,2.0],[127,8.4,0.8,2.5],[158,7.4,0.55,3],[221,8.4,0.75,1.8],[201,9.0,0.5,1.5],[281,8.8,0.55,2.5],[96,11.5,0.35,1.5]];
  for(const sp of spots){
    const dx=(c-sp[0])/sp[3], dy=(f-sp[1])/0.85;
    const g=Math.exp(-dx*dx-dy*dy);
    if(g>0.01) val=Math.max(val, g*sp[2]*(0.4+0.6*vstr));
  }
  return val;
}
heat(1219.1,286.4,1994.2,730.5,function(px,py){
  return fieldB((px-1212.9)/2.606,(730.5-py)/22.205,px,py);
});
// inset (pixelated)
ctx.fillStyle='#fff'; ctx.fillRect(1644,244,384,306);
heat(1677.9,269.4,2005.9,513.6,function(px,py){
  let c=(px-1665)/6.8, f=(513.6-py)/16.28;
  c=Math.floor(c)+0.5; f=(Math.floor(f/0.3125)+0.5)*0.3125;
  const ci=Math.floor(c), fi=Math.floor(f/0.3125);
  let acc=0;
  for(let a=0;a<3;a++)for(let b2=0;b2<3;b2++){acc+=fieldB(ci+(a+0.5)/3,(fi+(b2+0.5)/3)*0.3125,0,0,0.5);}
  return acc/9;
});

// ---------------- 3D surfaces
function surf3d(P, field, T, opts){
  const X0=opts.x0, Y0=opts.y0, W=opts.w, H=opts.h;
  const img=ctx.getImageData(X0,Y0,W,H); const d=img.data;
  const dc=0.25, dt=0.008;
  const nc=Math.round(150/dc), nt=Math.round(T/dt);
  // precompute field
  const V=new Float32Array((nc+1)*(nt+1));
  for(let i=0;i<=nc;i++){const c=i*dc; for(let j=0;j<=nt;j++){V[i*(nt+1)+j]=field(c,j*dt);}}
  for(let i=nc;i>=0;i--){
    const c=i*dc;
    for(let j=nt;j>=0;j--){
      const t=j*dt;
      const v=V[i*(nt+1)+j];
      const vt=V[i*(nt+1)+Math.max(j-1,0)], vc=V[Math.max(i-1,0)*(nt+1)+j];
      const x=P.x0+P.xc*c+P.xt*t;
      const yb=P.y0+P.yc*c+P.yt*t+P.z0;
      const ytop=yb-P.zs*v;
      // shading: slope facing viewer brighter
      const gt=(v-vt)/dt, gc=(v-vc)/dc;
      let sh=opts.amb + opts.kt*gt + opts.kc*gc;
      sh=clamp(sh,0.25,1.15);
      if(opts.vmaxsh!==undefined && v>opts.vmaxsh) sh=Math.min(sh,0.85);
      let col=jet((v+0.2)/0.4);
      let r=col[0]*sh+opts.add[0], g=col[1]*sh+opts.add[1], b=col[2]*sh+opts.add[2];
      if(sh>1){const e=(sh-1)*300; r+=e; g+=e; b+=e;}
      const xi=Math.floor(x-X0), yi0=Math.floor(ytop-Y0);
      let yi1=Math.floor(Math.max(yb,ytop)-Y0)+2;
      if(v<=0) yi1=yi0+3;
      for(let xx=xi-1;xx<=xi+1;xx++){
        if(xx<0||xx>=W) continue;
        for(let yy=Math.max(yi0,0);yy<Math.min(yi1,H);yy++){
          const k=(yy*W+xx)*4; d[k]=r; d[k+1]=g; d[k+2]=b; d[k+3]=255;
        }
      }
    }
  }
  ctx.putImageData(img,X0,Y0);
}
function fieldA(c,t){
  if(c<0.01) c=0.01;
  const sg=t/c;
  const tfr=0.01414*Math.pow(c,1.12);
  if(t<tfr) return 0;
  const s0=0.0258;
  const sgf=(t-tfr)/c+s0;
  let v=0;
  const spk=0.5+0.5*Math.sin(2*Math.PI*c/1.6);
  // red ridge
  const r1=smooth(s0,s0+0.0008,sgf)*(1-smooth(0.0295,0.0315,sgf));
  v=Math.max(v, r1*(0.19+0.03*spk));
  // orange ridge
  const r2=smooth(0.0318,0.0328,sgf)*(1-smooth(0.0345,0.037,sgf));
  v=Math.max(v, r2*(0.12+0.02*spk));
  // yellow textured plateau
  const tex=Math.sin(2*Math.PI*t/0.09)*Math.sin(2*Math.PI*c/1.7);
  const y1=smooth(0.0335,0.036,sgf)*(1-smooth(0.05,0.058,sg));
  const yv=0.05+0.018*tex+0.008*Math.sin(2*Math.PI*sg/0.004);
  v=Math.max(v, y1*yv);
  // fan (green-yellow ridges)
  const f1=smooth(0.05,0.056,sg)*(1-smooth(0.095,0.1,sg));
  const ridge=Math.pow(0.5+0.5*Math.cos(2*Math.PI*(sg-0.056)/0.009),4);
  const fv=0.02+0.03*ridge+0.012*tex;
  if(f1>0) v = v*(1-f1) + f1*fv;
  // teal/blue negative region
  const nb=smooth(0.095,0.102,sg);
  if(nb>0){
    const q=Math.min(1,c/(10*t+1e-6));
    const vn=-0.16+0.13*Math.pow(q,0.6) + 0.018*Math.pow(0.5+0.5*Math.cos(2*Math.PI*(c-1.5)/4.2),8)*(1-smooth(7,12,c));
    v=v*(1-nb)+nb*vn;
  }
  return v;
}
surf3d({x0:606.7,xc:-2.5,xt:52.3,y0:765.3,yc:-1.259,yt:-37.5,z0:-33,zs:185}, fieldA, 5.45,
  {x0:200,y0:250,w:780,h:560, amb:0.68, kt:0.6, kc:-2.0, add:[8,0,-8]});
function fieldD(c,t){
  if(c<0.01) c=0.01;
  const sg=t/c;
  const s0=0.021;
  let v=0;
  const saw=(c/1.55)%1;
  if(sg>=s0){
    const rise=smooth(s0,s0+0.0006,sg);
    const dec=1-smooth(s0+0.0006,0.0262,sg);
    const r1=rise*Math.pow(dec,0.8);
    v=Math.max(v, r1*(0.44+0.04*saw)*smooth(0,25,c*2));
    const y1=Math.exp(-Math.pow((sg-0.0322)/0.0006,2));
    v=Math.max(v, y1*(0.065+0.02*saw));
    const g1=Math.exp(-Math.pow((sg-0.039)/0.0008,2));
    v=Math.max(v, g1*(0.03+0.015*saw));
    for(const sc of [0.05,0.062,0.076]){
      const g2=Math.exp(-Math.pow((sg-sc)/0.0012,2));
      v=Math.max(v, g2*0.008);
    }
  }
  // blue band near c=0
  const bb=Math.exp(-c/6.0);
  v = v - 0.21*bb;
  return v;
}
const T_D=5.5;
surf3d({x0:619.8,xc:-2.496,xt:52.5,y0:1660.5,yc:-1.262,yt:-37.7,z0:-33,zs:185}, fieldD, T_D,
  {x0:200,y0:1150,w:780,h:560, amb:0.68, kt:0.03, kc:-0.3, add:[8,0,-8], vmaxsh:0.18});
})();

</script>
</body></html>
